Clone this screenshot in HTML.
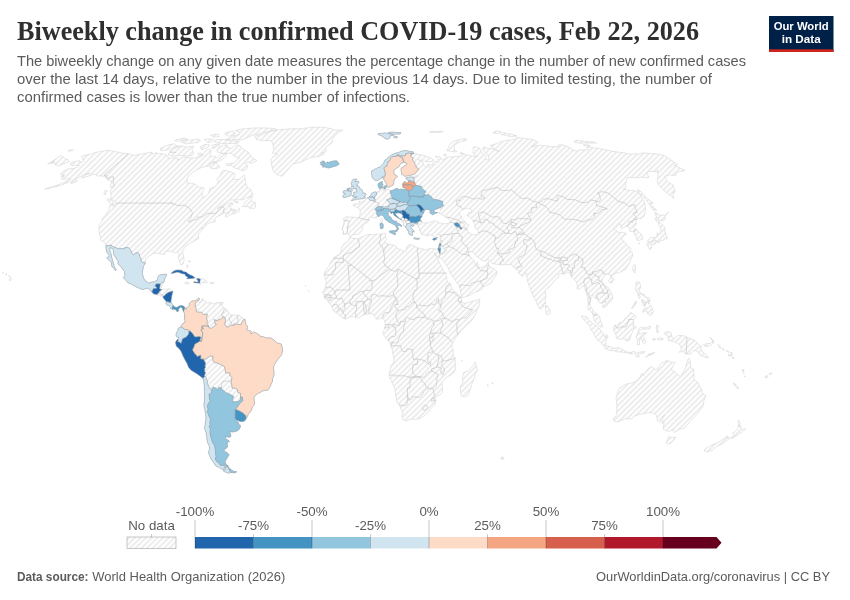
<!DOCTYPE html>
<html lang="en"><head><meta charset="utf-8"><title>Biweekly change in confirmed COVID-19 cases</title>
<style>
html,body{margin:0;padding:0;background:#fff;}
body{width:850px;height:600px;overflow:hidden;position:relative;font-family:"Liberation Sans",sans-serif;}
svg{position:absolute;left:0;top:0;display:block}
.ttl{font-family:"Liberation Serif",serif;font-weight:bold;font-size:27px;fill:#2f2f2f}
.sub{font-family:"Liberation Sans",sans-serif;font-size:14.8px;fill:#5b5b5b}
.lg{font-family:"Liberation Sans",sans-serif;font-size:13.3px;fill:#5b5b5b}
.ft{font-family:"Liberation Sans",sans-serif;font-size:12.9px;fill:#5b5b5b}
.logo{font-family:"Liberation Sans",sans-serif;font-weight:bold;font-size:11.5px;fill:#fff}
</style></head><body>
<svg width="850" height="600" viewBox="0 0 850 600">
<defs>
<pattern id="hatch" patternUnits="userSpaceOnUse" width="4" height="4" patternTransform="translate(1 0) rotate(-45 2 2)">
<rect width="4" height="4" fill="#fff"/>
<path d="M-1,2 l6,0" stroke="#ccc" stroke-width="0.7"/>
</pattern>
</defs>
<rect width="850" height="600" fill="#fff"/>
<g id="map">
<path d="M70.4,162.9L75.3,161.5L79.5,160.7L79.3,161.8L82.8,161.8L84.0,159.9L82.6,159.5L83.1,158.2L81.2,156.7L83.9,155.5L90.4,154.2L95.6,152.4L102.0,151.4L107.8,150.2L113.6,151.2L118.0,152.2L122.6,153.1L128.3,153.8L131.2,154.2L133.8,155.5L137.6,154.4L141.2,154.2L145.5,153.3L152.0,152.0L152.0,154.2L156.7,152.6L158.1,154.0L161.9,153.5L166.7,155.3L167.8,157.5L170.6,158.2L176.1,157.7L178.1,158.6L177.2,160.2L180.4,158.6L183.7,156.8L186.5,157.5L189.4,157.9L195.4,157.9L198.4,156.4L200.4,157.0L203.6,154.2L205.1,150.9L210.0,148.8L211.0,151.4L210.3,154.2L210.2,156.4L214.7,155.9L216.6,157.9L219.4,155.3L221.6,153.5L226.4,153.7L225.7,156.4L222.2,159.7L216.3,162.0L213.7,162.0L214.0,160.9L213.8,163.1L210.4,164.3L208.2,166.1L205.2,166.6L201.6,167.5L196.5,170.1L191.7,173.1L188.8,176.0L187.4,178.9L187.2,183.2L192.5,183.2L195.5,184.4L199.5,187.4L204.4,187.9L201.9,193.1L202.6,195.5L202.7,197.6L205.4,196.8L208.0,194.3L209.4,190.6L209.4,188.6L214.2,186.9L217.3,184.4L218.3,180.8L216.6,178.9L220.0,176.0L221.2,172.4L223.5,170.1L227.5,170.8L232.0,172.4L235.1,173.6L234.7,176.0L232.8,178.9L235.8,179.6L239.8,178.9L243.0,176.0L244.4,175.0L245.4,179.6L246.1,183.7L247.4,187.6L250.6,189.3L251.6,191.8L253.1,194.3L250.9,196.8L246.6,197.6L242.9,199.8L236.9,199.8L229.8,200.1L224.7,203.1L220.3,206.9L217.2,208.7L221.6,206.1L225.4,204.1L229.9,202.6L232.8,203.1L232.6,204.9L228.9,205.6L230.5,206.9L230.5,208.2L230.4,210.2L232.2,211.0L235.4,211.2L237.2,210.2L239.4,208.2L239.9,210.7L236.8,212.8L231.2,214.3L226.2,217.1L225.0,216.4L225.9,214.6L229.7,212.5L227.5,212.8L224.4,213.0L220.6,215.1L216.5,216.9L214.6,219.5L215.4,221.5L212.6,222.3L209.7,222.8L206.0,224.6L205.3,227.0L202.8,228.9L201.9,227.5L202.0,230.1L199.3,233.4L198.3,234.0L198.8,238.5L196.1,239.9L192.7,242.0L189.4,243.9L185.2,246.7L183.0,250.4L182.8,253.5L183.7,256.2L184.0,260.5L183.3,263.3L182.3,264.7L180.9,264.8L179.7,262.6L178.5,258.2L179.0,254.8L177.7,252.3L176.2,252.1L173.8,253.0L171.6,251.2L168.2,251.4L165.6,251.4L164.6,254.5L162.0,254.3L159.3,253.5L155.0,253.0L152.5,254.0L149.4,256.1L146.2,258.5L145.1,262.6L145.4,262.8L143.4,266.5L142.3,272.3L143.0,276.2L144.5,280.1L147.2,281.9L148.4,283.1L152.4,281.9L154.4,281.9L157.2,280.1L158.4,276.2L159.4,275.1L162.9,274.4L166.3,274.1L166.7,275.4L165.0,277.7L164.3,280.9L163.4,283.0L162.8,282.2L162.2,284.8L161.7,287.4L160.2,289.0L160.8,289.5L161.7,289.5L163.3,289.2L166.7,289.2L169.1,288.7L171.6,290.3L173.0,291.3L172.2,293.9L171.7,296.5L171.3,299.1L170.9,301.7L171.0,302.0L172.3,304.3L173.2,305.5L174.5,306.9L176.3,307.5L177.7,306.9L179.3,306.0L181.4,305.5L183.7,306.2L185.0,307.8L183.6,311.6L183.0,310.9L182.6,308.8L181.3,307.2L180.2,307.1L179.0,308.8L178.0,309.0L178.9,310.9L176.8,311.6L176.4,310.1L175.0,309.5L173.7,309.0L172.3,309.4L172.1,308.8L170.5,308.4L170.8,307.5L168.6,305.4L167.4,305.4L165.9,304.1L166.3,302.0L166.3,301.5L164.6,299.6L162.8,297.0L163.0,296.5L162.9,295.7L162.0,295.7L160.3,296.0L157.5,295.1L156.8,294.6L153.9,293.9L152.2,292.5L148.8,288.7L147.0,288.2L145.2,288.7L142.8,289.6L139.5,288.4L135.4,286.5L131.9,284.4L127.8,282.7L126.1,280.6L123.9,278.3L123.7,277.2L124.8,275.7L124.5,271.7L123.3,269.9L120.8,266.5L117.8,263.7L118.4,260.8L116.4,259.2L115.9,257.7L113.8,254.8L113.4,251.7L113.3,249.1L110.3,247.5L109.7,250.1L111.1,254.0L111.7,257.4L112.9,261.3L113.5,263.9L114.4,267.1L116.3,269.9L115.3,270.7L114.7,269.1L111.8,266.5L111.5,263.9L111.6,262.1L109.3,260.5L107.4,258.7L106.6,257.8L108.7,256.9L109.2,255.3L106.8,252.2L106.3,249.6L105.9,247.0L105.9,245.7L105.9,244.4L104.3,242.4L102.9,241.4L100.5,240.5L100.8,238.6L99.7,235.0L99.5,232.7L99.0,231.4L98.9,228.0L99.1,225.1L101.7,221.5L102.3,218.9L105.9,214.6L108.7,210.2L110.5,204.7L113.7,205.1L113.6,206.9L115.6,203.1L115.1,202.3L113.7,200.6L110.6,198.1L111.2,195.1L110.5,191.8L110.8,189.6L112.6,188.1L110.4,187.4L111.0,184.4L111.5,180.8L107.6,180.1L106.9,178.9L105.1,176.9L102.3,176.0L97.8,176.0L94.9,174.3L91.7,174.8L86.9,176.7L81.3,177.9L85.3,174.8L89.9,173.1L83.5,174.8L78.4,177.7L74.5,179.6L67.6,182.5L60.9,185.2L55.3,186.9L50.1,188.1L44.6,189.1L49.9,187.4L55.6,185.7L62.4,183.2L68.3,180.1L70.6,178.9L67.8,178.9L63.8,179.1L61.0,179.1L64.1,176.5L60.7,176.2L64.6,175.3L60.6,174.3L62.0,172.2L65.5,170.1L68.6,168.7L71.8,168.7L76.8,167.5L79.4,165.4L75.9,165.4L71.5,165.4L70.7,164.7ZM185.0,307.8L186.3,309.5L186.4,308.0L187.8,306.9L189.2,305.6L189.6,303.0L191.2,301.6L192.7,300.9L195.0,300.9L197.4,299.4L198.6,297.9L199.9,298.9L199.3,299.5L197.9,301.5L198.6,302.0L200.0,301.7L201.6,300.7L202.0,298.9L202.9,298.6L202.9,300.2L205.1,300.7L206.1,302.0L206.8,303.0L209.3,302.8L211.1,302.8L213.6,304.1L215.5,303.0L216.4,302.6L220.5,302.5L218.7,303.3L219.3,303.8L222.9,305.9L223.0,308.0L224.9,308.2L225.3,308.8L227.1,309.8L228.2,312.2L229.0,312.7L231.1,314.8L231.3,314.9L233.8,315.2L235.9,314.9L238.4,315.3L240.7,316.1L242.3,317.6L243.7,319.5L245.0,319.2L245.8,324.7L247.4,326.0L247.7,327.8L246.7,329.9L247.4,330.4L251.1,331.2L250.9,334.2L253.4,332.0L256.6,333.3L259.9,335.4L260.6,336.9L262.7,336.5L266.4,338.0L270.5,337.8L274.0,340.0L276.8,342.7L279.8,343.7L281.4,344.0L281.6,345.5L282.5,348.9L282.4,351.4L281.6,354.6L279.2,357.8L277.6,359.6L274.6,364.3L273.5,366.9L273.6,369.5L274.1,373.4L273.6,376.5L272.5,378.6L272.5,381.5L271.5,383.3L270.1,386.7L268.0,390.1L265.4,390.4L262.0,391.1L260.6,392.4L258.6,393.0L255.2,395.6L254.0,397.1L254.1,400.3L254.6,402.3L254.2,405.0L252.4,406.8L251.5,409.9L250.3,412.0L248.2,414.3L247.5,416.7L246.1,418.4L245.5,420.1L243.3,421.6L240.5,421.4L236.8,420.2L235.3,419.0L235.6,420.6L238.5,422.4L238.8,424.8L240.1,425.0L240.5,426.6L239.2,429.4L237.1,431.0L232.5,432.0L229.6,431.5L230.7,434.4L230.8,436.2L230.0,437.2L225.2,436.7L225.5,438.5L228.3,440.3L229.5,441.6L227.8,442.1L227.1,443.1L227.5,446.5L227.2,447.5L224.0,449.8L224.3,451.3L227.0,452.6L229.1,454.7L226.8,458.5L225.1,461.5L225.9,464.2L228.2,466.0L226.2,466.5L224.0,467.2L224.2,468.2L224.1,469.7L221.3,468.7L218.7,467.2L215.8,466.0L213.7,462.7L211.1,459.0L209.4,455.2L208.3,451.6L209.6,449.6L209.4,446.2L207.8,442.9L207.0,439.8L207.0,438.0L206.2,434.6L206.6,434.1L205.4,430.7L204.3,427.4L205.0,426.1L205.3,422.9L205.9,419.0L205.9,416.4L205.3,412.5L204.7,408.6L203.8,404.7L204.5,400.8L204.6,396.9L204.4,391.9L204.3,385.1L204.0,383.1L203.1,378.5L202.9,378.2L200.7,376.5L197.2,373.9L194.1,372.1L191.2,370.3L188.7,367.4L188.3,366.4L186.9,363.0L186.1,361.8L184.6,359.1L183.3,356.5L182.3,354.1L181.2,351.5L179.0,348.4L176.2,346.0L175.9,344.0L175.5,342.6L176.4,340.6L177.7,339.3L178.5,338.7L178.6,336.9L177.7,337.4L176.1,336.1L176.3,333.1L177.4,331.4L178.1,330.1L178.2,328.3L179.2,327.8L181.0,326.8L181.3,325.7L182.6,323.6L184.2,323.1L185.2,320.2L184.3,319.5L184.9,316.1L184.3,316.1L184.7,313.7L183.6,311.6ZM228.1,466.9L229.2,467.7L231.7,470.2L234.2,471.5L236.8,471.8L234.7,472.8L230.5,472.4L228.2,473.2L224.6,471.7L223.2,470.7L225.0,470.0L225.9,469.0L224.6,467.2L226.5,467.1ZM9.5,278.9L10.2,277.6L11.5,278.4L12.0,279.6L10.0,281.0L9.4,280.4ZM8.7,275.8L9.7,275.8L10.2,276.4L9.0,276.7ZM5.6,274.2L6.4,273.8L6.7,274.9L5.8,274.9ZM2.6,272.8L3.5,272.5L3.3,273.3L2.6,273.2ZM171.0,273.4L173.5,271.2L175.4,270.4L177.5,269.9L179.9,270.2L181.5,270.2L183.5,271.7L185.8,272.0L187.8,273.6L189.9,274.9L191.7,275.4L194.9,277.6L194.5,278.1L191.8,278.5L186.8,278.7L188.1,277.0L185.9,276.2L184.8,274.1L182.2,273.7L180.0,272.8L177.4,272.0L175.6,272.5L173.5,273.1ZM193.7,282.6L196.1,282.8L198.5,283.0L199.7,283.3L200.4,284.5L201.5,283.0L203.8,282.4L206.7,283.0L207.7,281.9L206.2,280.9L204.4,279.2L202.2,278.5L200.2,279.0L197.9,278.4L196.5,278.8L197.7,280.1L198.4,281.9L195.9,282.0L193.9,281.8ZM184.9,282.6L186.1,282.2L188.2,282.4L189.6,283.5L188.0,283.9L186.0,283.9ZM210.2,282.3L213.7,282.4L213.5,283.5L210.0,283.6ZM220.8,302.5L223.1,302.2L222.7,304.1L220.7,304.2ZM188.1,260.8L190.2,261.1L190.6,261.8L188.4,261.3ZM187.4,264.7L188.2,267.1L187.6,267.8L186.7,266.3ZM242.1,206.6L245.6,201.8L250.1,197.3L252.9,196.6L250.9,199.8L252.3,201.8L255.1,202.3L255.5,204.4L255.5,206.9L253.7,208.9L252.1,208.2L249.3,208.4L248.8,206.6L245.8,206.6ZM107.6,198.6L111.5,199.6L112.6,201.3L113.2,204.6L111.0,204.1L108.9,201.8L107.1,200.1ZM104.9,190.3L107.2,190.6L104.8,194.8L104.0,192.6ZM231.3,208.7L235.7,209.7L233.7,210.7L231.5,210.0ZM233.6,200.8L238.1,202.1L238.3,202.8L235.0,202.3ZM71.9,181.8L77.7,180.1L75.9,182.2L71.0,183.7ZM235.4,145.2L239.4,145.2L241.1,147.1L242.8,149.2L246.5,150.9L249.2,153.1L250.4,155.3L253.6,158.6L256.9,160.4L251.8,163.6L248.9,162.4L245.1,163.1L247.4,165.4L247.4,168.2L243.5,171.2L239.9,169.6L235.3,168.2L231.4,165.6L226.1,165.6L226.4,163.8L233.8,163.1L236.4,160.2L239.5,157.9L235.1,156.8L231.9,154.2L231.0,153.1L226.7,153.3L221.1,153.1L217.0,152.0L217.1,149.9L219.5,147.1L223.6,145.2L227.7,145.0L226.7,147.1L231.5,148.2ZM171.4,150.1L180.2,145.8L186.8,147.1L194.0,146.3L191.9,149.9L193.8,153.1L192.6,155.3L187.6,156.2L181.3,155.7L172.5,156.2L168.0,154.8L169.4,152.6L176.2,152.4L169.7,151.6ZM159.9,148.8L167.8,145.0L174.1,143.8L176.5,145.6L178.9,146.3L171.7,148.4L165.5,150.3L161.1,150.5ZM226.0,139.7L232.0,139.7L241.0,139.9L245.3,138.5L251.1,135.7L258.7,133.8L268.0,131.5L276.8,129.6L275.0,128.5L264.7,127.9L253.7,128.0L241.4,129.1L235.6,130.4L239.1,132.1L239.9,133.8L234.5,136.0L229.4,138.0ZM225.4,132.7L233.6,130.9L235.2,132.9L233.5,135.7L228.4,136.2L225.0,134.2ZM214.1,141.5L219.1,143.4L228.3,143.6L238.0,143.2L239.1,141.1L230.8,140.9L226.5,139.9L221.9,139.3L217.1,139.5ZM181.7,142.1L185.9,143.8L194.9,142.8L198.2,142.6L200.7,140.5L198.2,138.9L190.5,140.1L186.5,139.7ZM204.2,139.5L207.5,142.6L212.5,141.5L214.3,139.3L210.2,138.9ZM174.7,140.5L179.7,141.3L187.3,139.1L184.5,138.0L176.9,139.5ZM200.0,146.7L201.7,149.9L208.3,147.1L209.2,144.6L204.5,144.6ZM211.8,145.2L212.4,148.8L219.9,145.0L216.7,144.2ZM197.5,153.5L200.1,156.4L203.2,154.6L201.2,153.1ZM211.5,162.7L216.1,162.2L217.9,164.7L220.0,167.0L216.1,168.9L211.1,168.4L209.7,166.6L209.5,164.7ZM210.5,135.3L214.2,137.0L219.1,136.6L218.5,134.7L214.9,134.2ZM254.9,136.2L264.4,133.8L271.1,131.2L279.5,129.6L291.2,128.8L300.8,128.8L311.3,127.3L322.1,127.1L329.8,128.3L334.8,129.9L343.0,130.4L338.3,132.6L334.7,135.7L332.2,139.5L332.3,142.6L327.7,145.6L325.4,148.8L326.4,152.0L321.2,153.1L324.3,154.2L318.8,156.4L311.8,157.3L306.0,159.7L300.1,162.4L292.7,164.0L289.7,167.7L285.5,172.4L282.6,176.0L279.8,176.0L275.1,173.6L272.8,170.1L271.6,164.3L270.9,159.7L273.3,156.4L277.7,154.2L272.4,153.1L274.0,149.9L273.3,146.7L272.6,142.6L269.4,140.5L261.8,140.5L256.5,139.5L255.2,137.6ZM437.9,248.8L438.4,248.0L438.8,246.9L439.2,244.9L439.3,244.1L439.9,242.0L440.4,240.6L440.7,240.1L440.0,237.9L440.2,236.8L440.6,235.0L439.3,235.0L437.1,234.5L435.4,236.2L433.4,236.4L431.6,235.3L428.7,234.4L428.4,235.8L426.5,236.2L425.3,234.9L423.3,234.7L421.6,234.7L421.3,234.0L420.9,231.6L418.8,230.6L420.1,230.1L419.4,228.0L418.1,227.5L418.1,226.2L418.1,225.9L417.6,224.6L417.6,224.2L417.3,224.0L414.1,223.7L412.7,224.4L413.4,225.1L414.1,225.8L413.1,226.2L412.2,226.3L411.0,224.9L410.5,226.2L411.3,227.7L411.6,228.8L413.9,230.8L414.2,232.1L412.9,231.5L411.9,231.6L412.4,233.2L412.4,235.3L411.1,235.4L409.9,234.5L409.3,234.5L408.3,232.4L408.4,230.8L407.7,230.6L406.9,229.0L405.5,227.2L405.1,227.0L403.6,225.1L403.4,222.6L403.3,221.4L401.3,220.0L400.4,219.3L399.1,218.4L396.7,217.1L394.1,215.3L393.3,213.3L392.2,212.5L391.3,213.8L390.5,212.1L390.8,211.8L389.5,211.6L387.9,212.3L388.4,213.5L388.0,215.1L388.7,215.7L390.6,216.9L391.8,219.2L392.3,219.8L394.3,221.1L396.6,221.3L396.0,222.3L398.2,223.3L400.6,224.5L401.8,225.9L401.5,226.7L400.7,226.0L399.0,225.0L397.8,226.2L397.6,227.0L399.0,228.8L398.0,229.3L397.0,231.6L396.1,231.2L396.4,229.7L397.1,228.8L396.6,227.7L395.9,226.2L393.9,224.5L392.7,224.0L391.2,223.1L389.1,222.4L388.2,221.7L387.3,220.7L385.8,220.0L384.5,218.6L384.0,217.0L382.9,215.7L381.0,214.8L379.6,216.0L378.1,216.4L377.6,216.6L376.3,217.9L375.0,218.2L373.7,217.7L372.1,217.5L370.7,217.1L369.0,218.2L369.1,219.9L369.5,220.2L367.2,222.6L365.1,223.3L364.2,224.4L361.9,227.6L363.0,229.4L361.5,230.5L360.4,232.4L357.8,234.6L357.3,234.4L353.1,234.7L351.0,236.3L350.4,236.6L349.0,235.3L347.6,233.4L346.6,233.4L345.4,234.0L343.2,234.0L343.6,231.5L342.9,230.3L342.3,229.3L342.5,227.9L343.7,225.8L344.2,223.2L344.0,221.4L344.1,220.5L343.1,218.7L345.1,217.4L346.1,216.5L348.0,217.0L350.7,217.0L354.6,217.3L356.3,217.5L358.8,217.5L359.3,217.1L360.1,214.2L360.3,211.9L360.1,210.3L358.9,209.5L358.1,207.5L356.3,206.9L353.7,206.1L353.0,204.7L355.5,203.6L358.5,204.0L359.5,204.0L359.3,202.6L358.7,201.3L359.3,201.5L360.0,201.3L360.3,202.2L361.9,202.3L362.8,201.8L363.0,201.3L364.7,200.7L365.6,200.1L365.7,198.8L366.2,198.2L367.3,197.9L367.6,197.8L368.3,197.4L369.2,197.1L369.5,196.8L370.6,195.5L371.8,193.2L372.9,192.8L374.0,192.1L376.0,191.9L376.6,192.3L378.1,191.3L379.1,191.7L379.4,190.8L380.0,190.8L379.7,190.2L379.2,188.4L378.7,187.0L378.0,185.7L378.1,183.9L378.8,183.0L382.5,181.4L382.4,182.7L382.1,184.2L383.3,184.7L382.0,185.3L381.3,186.9L381.0,188.1L380.7,188.6L382.2,189.7L384.0,189.6L383.7,190.7L386.0,190.2L388.4,189.1L389.3,190.3L390.2,190.8L393.5,190.0L395.3,188.8L398.0,188.6L398.7,189.7L400.5,189.5L400.8,188.2L402.0,188.1L402.9,187.4L402.9,186.4L402.7,185.5L402.4,184.4L402.9,183.2L405.0,181.4L406.4,183.0L408.1,183.1L408.2,181.1L408.3,179.9L406.3,179.1L405.9,177.9L408.3,177.3L410.5,176.9L414.4,177.3L414.9,176.7L418.1,176.1L415.8,175.5L415.0,174.3L413.4,174.7L411.9,174.9L408.4,175.6L404.8,176.3L403.2,175.0L401.4,174.1L401.5,172.4L400.9,168.7L402.9,167.0L407.0,164.3L406.6,163.1L404.4,162.4L401.2,163.0L399.9,165.0L398.5,167.0L396.2,168.4L393.8,170.3L394.0,174.3L396.7,175.5L397.4,176.9L394.4,179.1L393.9,181.3L393.6,184.1L393.0,185.2L392.3,185.3L389.9,186.8L389.8,187.1L389.0,187.1L387.8,187.2L387.4,186.6L386.8,185.5L386.3,184.9L387.0,184.1L384.9,181.5L383.4,178.6L383.1,178.1L382.2,176.2L382.0,177.7L381.2,178.3L377.5,180.4L375.8,180.8L372.9,178.5L372.2,177.4L371.9,175.0L371.5,173.6L371.6,171.5L371.7,170.8L373.5,170.1L375.1,168.9L376.3,168.7L378.0,167.5L379.9,167.3L381.4,165.4L382.3,164.5L383.8,163.1L384.3,161.5L384.9,160.2L387.1,159.0L387.9,157.5L389.5,156.4L391.0,155.3L394.0,153.8L396.4,152.9L398.8,152.4L401.1,151.4L404.7,150.6L407.8,150.7L409.3,151.4L411.8,151.6L413.8,152.2L412.3,153.4L410.5,153.0L413.1,153.5L413.7,153.5L415.6,153.3L417.5,154.3L421.0,154.8L424.7,155.9L429.4,157.4L432.7,159.0L433.3,159.7L433.1,160.6L431.6,161.5L429.2,161.9L423.7,161.1L421.0,160.4L418.1,159.5L420.3,161.1L422.9,162.4L423.5,164.4L423.7,165.4L427.1,166.8L430.0,166.8L428.6,165.6L426.9,164.0L429.1,164.6L432.9,165.3L433.7,165.3L432.2,163.1L434.9,161.1L438.7,162.0L438.9,161.5L438.1,159.3L436.7,157.5L435.3,156.0L437.5,156.4L440.2,156.8L440.6,157.9L442.3,159.9L443.9,159.7L444.9,158.2L447.9,157.0L452.0,156.8L453.8,157.0L455.2,156.4L459.3,156.2L462.5,155.9L462.9,153.5L465.2,154.6L470.7,155.5L473.7,156.4L477.3,156.8L474.5,155.3L473.4,153.1L472.0,151.4L473.5,149.9L473.1,147.5L474.1,146.7L477.1,146.9L480.1,148.8L481.5,152.0L485.9,155.7L485.6,159.3L488.7,160.2L488.7,157.5L487.8,154.8L483.5,150.9L482.6,147.7L484.0,147.1L488.2,148.4L490.4,148.2L493.7,149.2L498.6,151.4L499.1,152.0L495.3,149.2L490.0,145.6L496.8,143.6L501.0,141.5L507.4,140.3L514.1,139.5L517.6,137.2L523.4,138.5L530.2,139.1L535.9,140.5L537.7,142.6L535.5,144.6L531.5,146.7L539.4,145.2L542.2,145.6L553.8,146.7L558.6,146.7L558.1,145.0L561.7,144.8L568.2,146.7L571.9,149.0L571.9,149.6L577.2,151.4L578.7,149.9L583.5,149.9L588.4,149.9L587.2,147.7L587.1,146.9L592.0,147.7L597.4,148.2L606.3,149.9L611.4,151.1L625.6,153.1L630.5,154.2L634.9,153.7L638.8,154.2L641.0,153.1L644.3,152.9L649.5,153.5L654.8,153.7L659.2,154.4L664.2,155.5L677.4,164.3L676.7,165.0L674.0,165.0L682.2,168.9L685.0,170.5L678.8,171.7L675.8,173.6L675.7,176.0L670.0,174.8L667.8,176.0L664.4,176.2L666.5,179.6L666.6,181.3L673.3,185.2L674.0,188.1L674.9,189.3L674.7,192.6L672.7,193.1L673.7,198.3L668.6,194.3L664.2,190.6L659.2,185.7L657.2,181.3L657.7,178.4L658.1,174.8L657.4,171.9L657.8,170.1L656.5,171.9L652.0,171.5L648.4,171.9L646.6,172.4L648.9,177.2L647.9,177.9L641.0,177.1L637.4,177.7L631.6,177.4L627.5,177.5L626.2,181.3L625.5,184.4L626.0,188.1L623.1,188.8L629.1,190.6L632.5,190.1L638.0,192.3L637.2,192.7L640.6,195.1L640.9,196.8L643.3,200.6L644.9,203.1L645.4,207.4L645.6,210.7L644.6,213.8L643.7,216.4L640.6,218.9L637.8,218.2L637.1,219.5L636.5,220.2L635.4,221.5L636.6,224.1L633.6,226.7L634.1,228.2L636.8,229.8L641.1,234.0L642.3,236.6L642.7,238.9L640.6,239.7L637.9,241.0L636.9,239.7L636.0,236.6L634.3,234.2L634.5,232.8L634.3,232.0L632.0,231.6L630.4,231.4L629.6,231.1L629.9,229.5L628.9,227.5L626.5,226.3L624.1,227.2L622.0,229.0L620.5,227.2L621.2,224.9L618.2,224.0L616.9,226.4L613.6,228.8L617.2,231.1L618.3,232.0L618.5,233.4L620.7,232.1L621.4,231.9L623.2,232.5L625.8,232.9L626.2,234.4L622.8,236.4L621.5,239.2L622.0,239.9L624.9,242.3L627.4,245.4L630.6,248.0L631.0,249.9L629.5,251.4L632.3,252.5L632.7,256.6L631.5,257.7L629.9,262.6L627.4,266.5L625.2,269.7L619.8,272.3L618.3,272.5L615.1,273.6L611.9,275.1L611.7,277.5L610.8,277.5L610.1,274.6L608.7,274.4L606.2,274.2L603.8,276.4L602.3,279.6L602.2,281.7L604.3,284.0L607.5,287.3L609.0,288.4L611.9,294.4L612.8,297.6L612.4,299.4L610.1,302.0L608.0,303.4L607.2,305.6L603.0,308.0L602.9,304.3L601.9,303.3L599.7,302.8L598.3,300.4L598.0,299.9L597.0,298.6L594.1,297.4L592.3,295.2L591.0,295.7L591.1,297.7L590.4,301.7L589.9,303.0L590.5,306.4L592.0,308.5L593.6,311.6L595.2,312.4L597.2,314.1L597.5,314.2L599.7,316.5L600.4,320.5L601.7,323.9L602.6,326.8L601.5,327.1L600.8,326.9L597.9,324.7L595.7,322.6L594.2,320.0L593.2,316.3L592.8,313.7L592.5,313.5L590.8,311.4L589.6,309.4L588.2,309.8L587.9,307.2L588.4,304.4L588.0,300.4L588.0,297.9L586.5,293.9L585.4,290.8L584.6,287.4L582.7,285.3L581.6,287.1L579.8,289.2L577.0,288.8L577.4,284.8L576.4,282.2L574.7,279.8L572.6,277.9L571.2,276.4L570.1,274.6L569.3,272.3L567.5,271.7L566.7,273.1L563.3,274.0L561.4,273.8L558.8,274.4L558.5,277.6L556.7,278.8L555.2,280.0L551.7,284.3L549.6,286.2L549.7,287.1L547.2,288.3L545.5,290.0L545.1,291.3L546.0,296.3L545.2,299.4L545.5,303.6L544.0,303.7L543.5,305.9L544.4,306.3L542.0,307.5L540.6,309.3L539.0,308.2L537.3,304.5L536.0,301.1L533.6,296.8L530.7,290.1L529.2,286.1L527.5,281.0L527.0,277.7L526.5,275.4L526.0,272.5L525.3,273.7L522.9,276.4L521.4,275.9L519.5,274.0L517.9,272.4L520.6,271.6L520.7,270.6L518.6,271.0L516.8,269.7L515.8,268.6L513.9,267.8L512.6,265.8L511.7,264.5L507.2,264.7L504.7,264.6L502.1,265.0L500.5,264.7L498.2,264.5L491.9,263.5L489.7,260.5L488.0,259.6L485.3,261.1L483.7,261.1L481.6,260.3L479.4,258.5L475.3,255.1L473.6,252.5L471.9,251.9L470.5,251.4L469.9,252.3L468.5,252.2L468.7,253.8L470.0,256.0L473.3,260.0L474.6,261.5L474.8,263.9L476.4,265.9L476.1,263.9L477.1,262.2L478.0,264.5L478.3,266.3L477.4,266.3L478.4,267.3L480.6,267.3L484.6,266.7L486.4,264.6L487.7,262.8L488.4,261.7L488.7,263.7L488.8,265.0L489.9,266.9L494.2,268.9L497.2,271.7L496.6,274.6L494.8,277.2L493.1,279.2L492.4,281.1L490.3,283.6L487.9,284.7L485.5,286.1L483.3,287.0L481.4,289.7L474.5,292.5L470.8,294.8L465.4,297.0L461.9,297.4L461.4,295.7L460.5,291.8L459.9,287.7L459.3,286.3L455.9,281.1L453.7,277.9L450.9,274.4L448.0,267.6L445.9,264.7L444.0,262.0L442.1,259.1L439.5,257.3L440.1,253.9L439.9,253.4ZM60.9,155.5L63.0,156.8L64.6,158.6L68.1,159.7L69.1,161.8L66.2,162.9L59.2,165.4L57.7,165.9L54.9,164.7L56.3,163.1L51.1,163.1L54.6,161.3L47.7,164.3ZM70.1,149.9L73.3,149.9L72.7,150.7L67.9,151.1ZM351.2,200.4L352.2,200.7L354.4,199.8L355.3,200.1L355.8,199.1L357.7,199.3L358.7,199.1L360.0,199.1L361.0,198.7L363.0,198.7L364.4,198.3L365.2,197.7L365.4,197.1L363.9,196.8L364.4,196.0L365.1,195.7L365.7,195.3L366.0,194.3L365.3,193.3L363.5,193.2L362.7,193.3L363.2,192.8L362.7,191.7L362.4,190.3L361.4,189.3L360.3,189.0L359.9,188.1L358.7,186.1L358.4,185.9L356.4,185.7L357.6,184.9L357.0,184.5L358.7,182.8L359.2,182.0L358.8,181.5L356.2,181.5L354.6,182.0L355.4,181.1L356.8,179.7L357.0,179.2L353.2,179.3L352.6,180.2L351.7,181.1L351.8,182.5L351.5,183.2L350.8,183.9L352.1,184.7L351.4,187.4L352.4,186.4L353.2,185.9L353.6,187.0L352.7,188.5L353.2,189.0L355.6,188.4L356.7,188.2L355.6,189.3L356.9,190.3L356.6,191.1L356.5,192.1L355.0,192.2L353.6,192.2L353.3,193.6L354.5,194.6L352.1,195.8L352.5,196.4L354.3,196.7L356.3,196.9L357.2,196.7L356.6,197.6L354.4,197.6L353.6,198.1L352.7,199.2ZM349.0,188.0L351.3,188.5L352.1,189.8L352.6,190.5L351.0,191.2L350.9,191.4L351.2,193.1L351.4,194.1L350.6,196.0L349.3,196.1L346.9,196.9L343.7,197.8L342.5,196.2L344.1,194.9L343.7,195.0L345.5,193.6L343.2,192.9L343.3,191.5L343.7,190.7L346.5,190.7L347.3,190.0L347.1,188.6L349.2,188.8ZM322.3,167.0L323.9,166.2L320.5,164.6L324.1,164.0L323.9,163.4L319.9,163.1L322.6,161.1L324.0,161.0L325.3,163.1L326.0,163.4L327.5,161.8L328.7,162.6L330.9,161.6L334.7,160.8L337.5,161.1L336.6,162.0L338.9,163.1L338.9,164.3L337.0,165.6L335.8,166.0L332.4,167.0L328.8,168.0L326.5,167.6L325.0,166.9ZM377.7,134.2L378.4,133.5L382.6,133.3L385.4,132.9L388.5,133.6L393.9,135.1L390.4,135.7L390.1,137.6L388.0,139.3L385.1,138.5L383.4,137.4L382.5,136.2L379.3,135.1ZM388.2,132.6L390.9,132.1L396.7,132.4L401.1,132.7L400.1,134.0L394.4,134.2L389.9,133.5ZM394.2,136.2L397.3,136.6L397.0,138.0L393.9,137.6ZM389.2,231.4L391.1,230.8L395.8,230.6L395.0,232.7L395.5,234.0L395.1,234.9L393.3,234.0L391.7,233.2L389.5,232.3ZM379.8,223.8L381.9,222.9L382.9,223.8L383.3,224.9L383.1,227.2L382.9,228.5L381.9,228.2L381.4,229.0L380.4,228.2L380.3,225.4ZM382.2,218.4L382.6,220.2L382.3,221.4L381.9,222.6L380.6,221.3L380.5,220.0L380.9,219.5ZM413.5,238.4L414.7,237.7L417.0,238.3L419.6,238.4L419.2,239.2L416.3,239.3L413.7,238.6ZM432.6,239.0L433.9,238.6L433.8,238.1L435.6,238.1L437.4,237.3L436.2,238.5L436.5,239.2L435.6,239.6L434.2,240.3L433.0,239.8ZM383.8,186.4L385.2,185.7L386.6,185.7L386.5,186.6L386.2,187.6L385.6,188.2L385.0,187.7L384.0,187.6ZM381.3,186.9L382.4,186.6L383.3,187.4L383.1,188.0L382.0,188.0ZM383.7,188.5L385.4,188.4L385.7,189.0L384.3,189.0ZM446.7,150.9L448.4,147.7L449.8,144.6L452.6,141.5L458.3,139.9L465.5,138.5L466.7,139.9L458.7,142.6L455.3,144.6L454.2,146.7L454.4,149.9L457.0,151.8L452.9,151.8L449.2,150.9ZM500.8,134.7L502.3,132.6L511.6,134.2L517.1,136.0L510.5,136.6L504.1,135.1ZM492.7,132.9L495.8,130.9L500.9,131.5L499.9,132.9L496.5,133.6ZM574.0,141.9L576.0,140.3L585.7,141.5L594.4,142.1L596.5,143.0L584.9,143.0L579.0,143.2ZM583.0,144.8L587.7,144.8L590.4,146.1L586.4,146.1ZM429.2,132.1L433.0,131.4L441.3,131.2L443.3,131.9L436.7,132.6ZM443.4,155.3L444.9,154.2L446.7,155.1L445.4,155.9ZM459.6,153.5L460.5,152.2L462.7,153.1L462.0,154.0ZM637.2,189.8L639.1,190.1L643.0,193.6L645.8,196.8L649.1,200.1L653.3,203.1L650.9,203.9L653.5,207.7L655.6,208.9L656.5,210.5L653.6,208.9L653.8,210.7L651.7,208.2L648.9,203.6L645.3,199.3L641.6,195.5ZM657.3,222.3L658.8,221.7L658.2,219.7L663.2,221.0L666.0,217.9L664.7,216.9L663.6,215.1L660.1,215.3L654.5,212.0L655.1,213.8L657.1,217.7L655.1,217.9L655.1,219.5ZM659.2,222.3L660.4,222.6L663.7,226.2L665.3,228.8L664.4,230.8L665.9,234.0L666.1,235.8L667.3,237.2L666.9,238.8L666.2,239.3L665.2,237.6L664.2,238.6L664.3,240.1L663.0,240.2L660.4,240.2L660.6,241.0L659.4,241.3L659.1,243.2L657.1,242.0L656.7,240.7L654.2,239.9L652.1,241.0L650.8,242.0L647.9,241.9L647.6,240.7L649.2,239.4L650.6,237.7L653.4,237.7L655.4,237.3L656.9,237.3L657.0,234.5L657.4,232.7L657.1,233.7L658.5,234.5L660.2,233.1L661.0,230.8L660.6,228.2L659.6,226.2L658.5,224.6L658.4,223.1ZM651.7,243.1L652.1,241.5L654.6,240.7L655.9,241.3L656.3,242.3L655.9,243.7L654.3,243.1L653.8,245.0L652.4,244.4ZM647.9,242.0L650.0,242.8L651.1,244.4L651.4,247.2L651.1,248.8L650.5,249.6L649.1,248.8L648.2,246.5L646.8,245.2L646.1,243.9L647.0,242.8ZM634.6,264.5L635.7,265.2L635.6,267.8L635.0,273.1L633.4,271.5L632.5,269.1L633.2,266.3ZM608.7,280.4L610.4,278.3L612.9,278.0L613.8,279.3L612.0,282.7L610.2,282.7L609.0,281.9ZM545.7,305.0L546.7,305.5L548.9,308.2L550.5,310.9L550.3,313.5L547.8,314.9L546.6,314.5L545.8,312.2L545.6,309.0ZM638.3,243.6L638.9,242.9L639.8,243.2L639.3,243.9ZM423.9,223.1L421.4,221.3L420.1,219.7L420.8,217.9L422.0,216.5L422.0,215.3L423.8,212.8L423.6,212.4L425.4,209.5L426.9,209.2L428.0,209.5L430.2,210.5L431.4,210.5L429.5,212.4L431.8,214.3L432.5,214.8L433.2,214.6L435.6,213.3L437.7,212.5L435.3,212.5L434.5,211.5L433.8,210.2L435.1,209.5L437.7,208.8L439.0,207.9L440.4,207.9L441.7,207.7L442.6,207.9L440.8,208.9L440.5,210.7L439.6,212.5L438.2,212.8L439.6,213.5L440.7,214.1L443.6,215.6L445.2,216.9L445.9,217.4L448.2,218.4L449.9,220.6L450.1,221.9L450.0,222.3L448.0,223.5L446.4,223.6L443.6,223.7L442.6,223.6L439.2,222.8L436.3,220.9L433.4,221.0L429.5,222.4L426.4,223.1ZM461.0,210.7L463.7,209.2L466.6,208.4L468.4,208.3L470.7,208.7L472.1,212.5L468.6,212.5L468.0,214.3L466.8,215.1L468.9,216.8L471.9,218.9L473.6,221.7L474.2,223.3L475.0,226.2L474.7,227.7L477.6,229.0L478.4,233.1L478.8,234.2L476.0,234.7L472.4,234.6L469.1,232.8L467.0,230.2L467.0,229.4L467.7,227.7L468.3,225.3L469.3,225.1L467.6,224.6L464.7,221.4L463.9,220.9L461.7,218.4L461.2,215.9L459.2,214.6L459.4,212.5ZM349.8,237.1L351.1,236.8L353.2,238.6L356.2,238.4L357.8,238.9L361.1,237.3L362.8,236.6L365.4,235.3L369.1,234.5L373.3,234.5L377.4,234.0L379.2,234.2L381.1,234.1L383.7,233.2L386.3,233.8L385.4,235.5L385.7,237.3L386.6,238.6L385.9,239.9L384.6,242.0L386.3,242.8L387.8,244.0L391.4,244.6L395.9,245.9L397.1,248.5L401.1,249.9L404.5,251.4L406.6,249.9L406.6,246.7L409.8,244.6L413.2,245.4L415.2,246.7L417.8,247.9L422.4,248.7L426.5,250.0L428.4,249.1L430.7,248.2L433.6,248.8L436.6,249.3L437.9,248.8L439.8,253.5L439.4,256.1L438.9,258.1L437.0,256.6L435.7,254.8L434.6,252.5L434.3,253.5L435.1,255.1L437.3,257.9L437.9,259.5L439.7,263.4L442.3,267.8L443.1,270.4L445.7,273.1L446.5,275.7L446.7,279.3L447.5,281.7L450.1,283.5L452.4,289.7L454.2,291.3L456.5,292.6L459.4,296.0L460.2,296.5L461.1,297.3L461.8,299.4L461.0,300.4L461.5,300.5L463.4,303.2L465.7,303.2L469.1,302.2L472.4,301.2L475.9,300.7L478.8,299.3L479.9,299.5L479.6,303.2L479.0,305.9L477.3,309.5L475.2,314.8L472.9,318.7L469.6,322.8L466.9,325.1L463.9,327.8L460.6,331.3L458.2,334.7L456.7,336.4L454.8,338.7L453.8,341.0L452.7,342.6L452.0,344.7L451.7,347.1L452.8,348.3L453.2,351.3L453.2,353.9L453.8,356.5L455.2,357.8L455.3,360.4L455.3,364.0L455.6,368.2L455.3,369.5L453.6,372.9L450.0,375.5L446.5,377.3L444.6,379.7L441.5,382.1L442.2,386.4L442.5,388.3L442.3,392.7L439.9,395.0L436.4,396.3L435.4,398.2L435.9,400.4L434.9,404.7L433.8,405.5L431.2,408.3L428.6,412.0L423.6,416.4L418.3,419.0L414.8,419.3L410.9,419.3L406.0,421.1L403.6,419.8L402.7,419.9L402.7,418.8L402.0,415.9L402.8,413.3L401.2,409.4L400.0,406.3L399.1,405.0L397.5,402.9L396.4,399.9L395.8,395.6L395.2,390.2L393.9,386.4L392.0,382.5L389.8,377.8L389.2,375.4L389.4,372.1L390.2,369.5L391.1,365.6L393.2,363.2L394.2,359.1L392.8,353.9L392.4,349.9L390.8,346.3L390.6,343.4L389.8,342.9L388.1,340.6L385.6,337.7L384.0,335.4L382.8,332.2L384.0,330.4L384.3,329.4L384.7,327.8L385.1,324.4L385.3,322.7L384.4,320.2L383.0,318.7L382.1,318.0L381.6,318.4L378.7,318.9L376.4,319.2L374.7,316.6L372.9,314.0L370.4,313.6L368.8,313.8L366.3,314.2L365.3,314.5L362.6,315.5L362.1,315.9L358.6,317.8L357.7,318.0L355.4,317.1L353.4,316.7L349.9,317.1L345.3,319.1L341.9,317.4L337.7,314.0L336.1,312.4L333.8,311.1L332.1,308.2L332.0,306.8L331.1,305.6L329.1,303.0L328.2,301.7L326.9,299.5L324.4,298.2L324.2,296.3L324.2,295.3L322.6,292.1L325.0,288.6L326.2,283.5L325.9,279.8L324.0,276.2L324.4,274.8L324.2,273.1L326.7,268.6L329.1,266.0L330.1,262.4L332.7,259.8L333.9,257.5L337.0,255.6L340.0,254.0L341.4,251.2L341.0,248.3L342.3,246.2L344.0,243.7L346.0,242.8L347.6,241.6L349.1,238.9ZM475.3,361.7L477.2,369.5L477.6,370.8L475.9,372.1L474.7,376.8L472.1,383.8L469.9,390.4L468.1,395.3L464.4,397.1L461.1,395.6L460.6,391.4L460.2,387.2L462.7,382.5L462.4,377.3L463.6,372.6L468.0,371.3L471.9,366.9L474.1,363.8ZM501.2,457.2L502.9,456.9L504.3,458.0L503.2,459.2L501.2,459.2L500.7,458.5ZM305.1,285.8L306.0,285.8L305.7,286.5ZM308.4,290.5L309.1,291.0L308.7,291.6L308.3,291.3ZM492.3,382.5L493.1,382.8L492.8,383.8L492.2,383.6ZM487.3,384.9L488.3,385.0L488.4,385.9L487.5,385.9ZM461.6,360.1L462.1,360.4L462.0,361.4L461.5,361.2ZM581.6,315.8L586.7,316.7L588.7,319.5L589.6,320.6L593.7,324.4L596.7,326.0L599.7,328.8L601.1,331.4L603.2,333.0L603.1,335.4L606.5,337.7L606.7,338.5L606.0,341.3L605.6,345.6L603.0,345.6L602.4,343.7L599.5,341.3L597.9,340.6L595.0,336.7L593.6,332.9L590.7,329.6L589.8,326.0L586.2,322.1L583.6,319.5L581.7,316.8ZM604.2,348.1L606.2,345.8L608.0,346.2L611.4,346.8L612.3,348.0L616.1,348.5L617.4,347.1L618.7,347.7L621.2,348.4L621.5,349.2L624.3,350.3L625.3,350.7L625.0,352.9L621.9,352.0L617.3,351.9L612.8,350.5L610.5,350.6L607.1,349.6L604.9,348.3ZM613.4,328.1L613.5,326.5L614.9,325.2L616.5,326.0L618.7,324.4L618.9,323.0L622.6,322.1L624.7,318.5L627.0,317.4L629.1,314.8L630.7,312.2L633.0,313.7L634.0,315.2L636.7,316.8L634.6,318.9L633.1,319.6L633.9,322.6L632.6,325.2L634.2,325.2L636.5,327.8L634.0,328.3L633.1,330.4L632.6,332.5L631.5,333.8L630.7,336.1L629.9,339.8L626.2,341.1L626.2,339.3L622.6,338.7L619.8,339.5L616.4,338.2L616.0,334.8L614.0,332.0L614.0,330.4ZM638.9,328.6L640.9,327.0L645.8,327.9L650.1,326.0L650.8,326.5L649.2,329.1L645.8,329.1L641.2,329.2L639.3,330.4L638.8,332.7L640.9,334.0L642.5,332.7L646.7,332.9L644.1,334.8L642.5,335.4L644.2,338.7L645.9,341.6L644.9,343.2L643.1,342.9L642.1,340.8L641.0,337.4L639.6,339.8L639.3,344.7L637.3,344.7L637.5,339.5L636.0,337.4L637.2,333.8L638.4,330.7ZM664.2,332.5L667.6,331.4L671.1,332.5L671.7,336.9L674.3,339.0L677.9,335.6L682.1,335.4L686.4,336.9L687.1,337.2L693.0,339.7L695.0,340.6L697.8,344.0L700.4,346.0L702.2,346.8L700.2,348.0L702.3,351.3L705.0,353.9L708.1,357.2L708.2,358.2L705.1,357.2L700.1,355.2L697.7,351.3L694.3,350.5L691.9,352.0L690.5,354.1L686.0,354.1L682.7,351.5L679.2,352.3L681.6,349.2L679.8,344.7L675.3,342.1L670.8,340.6L668.5,341.1L668.2,337.7L669.8,336.9L666.4,335.6L664.2,334.0ZM645.5,357.4L648.1,354.4L649.5,353.9L654.7,352.3L652.7,353.9L649.1,355.4L646.7,357.0ZM625.4,351.5L628.1,352.3L626.8,353.3ZM628.5,352.3L630.4,352.0L629.8,353.6L628.7,353.3ZM630.6,352.6L633.4,351.5L635.9,352.3L635.6,353.2L632.1,353.9L630.5,353.9ZM637.5,352.3L640.2,352.0L644.6,351.5L644.3,352.8L640.1,353.6L637.6,353.3ZM635.4,354.9L638.2,354.6L639.4,356.5L637.5,357.2L635.3,355.9ZM656.1,327.8L657.2,324.7L658.9,326.5L657.3,329.1L658.4,332.2L657.0,332.5L656.4,329.6ZM657.1,338.5L660.6,337.7L663.5,339.0L661.7,339.8L657.5,339.5ZM652.5,338.7L655.3,338.7L655.2,340.0L652.9,340.3ZM604.7,335.1L607.0,334.6L608.1,337.2L606.5,338.2L605.4,336.1ZM636.0,282.2L637.3,281.9L639.6,282.2L640.6,285.3L640.6,288.2L639.4,289.0L639.8,291.8L641.4,293.4L644.0,294.2L646.3,297.6L644.3,296.5L642.3,294.9L640.4,294.2L637.9,294.4L637.7,292.9L638.4,292.3L636.4,291.8L635.6,289.2L635.1,287.9L636.1,287.1L636.0,284.8ZM642.8,312.4L643.3,309.5L645.7,307.7L648.7,308.2L650.2,304.9L652.4,308.2L653.3,311.4L652.5,314.0L651.3,312.4L650.8,315.8L647.7,314.0L647.3,311.4L645.9,311.1L644.5,311.1ZM646.8,297.8L649.1,297.8L650.4,301.5L648.7,301.2ZM647.3,300.7L648.8,301.7L649.5,303.8L648.6,304.1ZM643.1,304.3L644.5,302.0L645.5,303.0L644.9,306.7L643.4,305.6ZM641.5,299.6L644.3,300.4L643.4,303.0L642.1,303.0ZM645.2,304.6L646.2,301.2L646.7,301.5L645.9,304.6ZM637.6,295.5L639.4,295.5L640.3,297.6L639.5,298.6L638.4,296.8ZM631.5,308.5L635.7,300.9L636.8,302.8L632.9,308.2ZM689.0,358.3L690.7,363.0L690.6,367.9L693.8,369.2L693.5,370.8L694.0,374.5L694.0,379.7L695.0,380.6L698.0,382.5L699.3,385.5L702.0,389.6L701.5,391.4L703.5,394.3L705.8,395.6L703.6,401.8L703.5,405.1L700.2,409.9L697.1,414.3L692.5,418.6L689.8,421.9L685.6,426.6L684.6,428.1L679.8,429.2L674.6,432.3L672.7,430.5L673.2,429.2L668.9,431.5L665.5,430.3L663.4,429.4L663.4,426.6L664.2,423.2L661.5,423.3L663.3,421.4L662.7,419.8L659.4,422.4L662.4,418.5L664.5,415.4L658.4,420.3L657.7,421.4L657.0,418.5L656.4,415.9L655.8,414.1L651.1,412.5L646.1,413.0L638.9,414.6L633.8,416.4L631.8,418.8L628.3,418.8L624.1,419.0L618.6,421.8L614.5,421.4L613.2,419.9L613.6,418.0L615.4,417.2L616.7,413.8L616.8,408.6L616.8,405.5L616.5,400.8L616.0,398.2L617.1,394.3L618.5,389.6L619.9,387.2L620.9,387.4L624.4,385.1L626.4,384.1L630.6,383.3L635.2,381.8L639.9,377.3L642.1,373.1L643.3,375.5L644.7,372.9L648.3,368.5L652.1,366.4L655.0,369.5L658.0,369.2L659.5,365.6L661.8,362.9L665.9,361.9L666.1,360.1L671.3,362.2L675.7,362.2L673.2,365.6L671.4,369.5L675.5,372.6L679.4,376.0L680.4,376.5L683.5,372.1L685.8,366.9L686.5,363.2L688.0,359.1ZM668.5,436.4L671.7,437.5L675.8,437.0L673.6,440.3L671.0,442.9L668.0,443.9L666.5,443.7L666.6,441.3L667.8,439.3ZM738.3,420.1L738.9,421.6L740.4,422.4L739.2,426.6L741.2,425.8L740.4,428.4L742.2,429.4L745.6,428.7L743.5,431.0L741.8,432.3L739.3,433.1L737.4,435.4L731.4,438.8L731.0,438.0L733.4,435.7L733.4,434.1L732.3,433.3L735.3,431.5L737.4,428.9L738.3,426.6L738.1,422.4ZM728.1,435.9L727.4,438.0L730.1,437.7L728.7,439.3L724.2,442.4L721.7,444.4L717.5,445.7L713.1,449.8L708.9,451.6L706.7,451.6L703.9,450.6L704.9,449.0L711.9,444.9L718.1,442.4L722.2,439.8L726.1,437.0ZM733.4,382.8L735.9,384.6L738.6,388.0L738.7,388.8L736.8,388.0L734.0,384.9ZM765.1,376.5L767.4,375.5L768.1,377.1L766.0,378.1L764.8,377.6ZM769.0,373.7L772.2,372.6L771.7,373.7L769.2,374.7ZM742.3,369.5L743.7,369.5L743.6,371.3L742.4,371.3ZM743.6,372.4L744.4,372.6L743.9,373.7L743.3,373.4ZM744.3,376.0L745.4,376.3L744.8,376.9ZM722.1,347.9L724.2,349.7L723.7,350.5L722.2,348.9ZM728.4,354.4L731.3,355.2L730.9,356.2L728.6,355.9ZM731.1,352.0L732.5,354.4L731.9,355.2L731.0,353.3ZM726.5,350.2L729.3,352.0L728.8,352.6L726.6,351.3ZM732.2,357.0L734.4,358.0L733.6,358.7L732.1,357.8ZM703.5,344.7L707.5,343.4L710.9,343.4L712.6,341.3L712.8,343.2L710.8,345.3L707.2,346.6L703.9,345.8ZM709.6,337.2L712.3,339.3L714.4,342.1L713.9,342.7L711.2,339.0ZM718.0,344.5L719.9,346.0L720.7,348.1L719.3,347.6L718.1,345.5ZM664.8,216.1L665.5,214.8L668.9,212.3L667.8,213.0Z" fill="url(#hatch)" fill-rule="evenodd" stroke="#cfcfcf" stroke-width="0.5" stroke-linejoin="round"/>
<path d="M199.3,299.5L197.0,301.5L195.5,303.0L195.1,306.2L196.2,308.8L196.3,311.1L197.2,312.2L201.5,312.2L203.1,314.5L207.4,314.2L206.7,316.6L206.5,318.7L207.7,321.5L206.5,323.1L207.9,324.4L208.6,327.2M208.6,327.2L208.1,326.0L206.2,325.8L201.9,326.0L201.7,327.6L203.2,327.8L203.4,328.7L201.3,329.0L201.3,330.8L202.8,333.0L201.6,341.3M201.6,341.3L199.9,340.3L201.3,337.4L199.3,336.3L196.8,336.7L194.8,336.7L192.9,333.7L190.3,330.9L189.3,330.7M189.3,330.7L188.5,330.1L186.9,329.4L184.3,329.4L183.6,328.3L181.0,326.8M189.3,330.7L188.6,334.3L186.2,337.2L183.5,338.2L182.4,339.3L181.6,342.4L180.9,343.4L179.5,342.0L177.5,341.9L178.2,340.6L177.7,339.3M201.6,341.3L199.7,341.5L194.9,344.2L194.3,346.3L193.3,348.4L192.6,349.9L195.1,353.9L196.8,355.2L197.1,356.5L200.9,355.0L200.9,359.1L203.2,358.9M203.2,358.9L205.5,363.0L205.0,366.1L205.3,367.7L204.3,369.0L204.9,370.8L204.0,371.1L205.5,372.6L204.4,375.5L204.8,376.0M204.8,376.0L202.9,378.2M204.8,376.0L206.0,377.6L206.5,379.9L207.7,381.2L207.3,383.6L208.7,386.4L209.6,388.5L211.4,389.9M211.4,389.9L211.8,390.4L211.4,393.0L209.1,394.3L209.5,399.0L210.3,400.8L208.8,402.9L207.8,404.7L207.5,406.8L208.2,409.4L207.3,411.7L209.2,416.4L210.6,419.5L209.9,422.2L210.4,424.5L209.2,425.8L210.4,429.4L210.2,431.8L210.4,434.6L211.0,437.2L211.8,440.3L213.3,443.7L214.6,445.7L215.2,448.8L215.7,451.3L215.6,453.9L216.2,456.4L215.2,459.0L217.2,462.0L219.1,462.7L219.6,464.5L221.0,465.3L224.7,465.3L228.2,466.0M211.4,389.9L213.1,387.2L215.6,388.0L217.6,389.8L217.9,390.0L218.4,387.7L221.0,387.7L221.4,388.4M221.4,388.4L225.5,392.4L229.1,394.0L232.6,395.8L233.6,396.3L232.6,399.7L232.0,401.6L234.9,401.8L237.1,401.8L238.0,401.6L240.3,400.0L240.4,397.1M240.4,397.1L242.2,397.1L242.8,400.5L241.6,401.8L239.0,404.2L237.2,407.3L235.3,409.1M235.3,409.1L235.0,411.2L235.1,414.3L235.0,417.7L235.3,419.0M235.3,409.1L239.1,410.7L241.5,412.0L243.9,413.6L245.6,415.6L246.0,415.6L246.1,418.4M240.4,397.1L240.7,393.2L239.9,392.7L238.1,392.7L237.1,389.1L235.3,388.3L232.1,388.0L231.8,384.6L231.1,382.9M231.1,382.9L228.7,380.8L222.9,381.5L221.8,383.8L221.4,388.4M231.1,382.9L231.5,379.9L232.1,377.8L229.9,375.2L229.9,372.9L225.6,372.9L225.2,369.8L224.4,366.4L220.9,364.8L217.4,363.0L215.1,362.7L213.1,361.2L212.9,358.6L212.9,355.9L209.9,356.2L206.8,358.3L205.2,359.1L203.2,358.9M208.6,327.2L209.9,328.4L211.7,328.1L212.9,327.3L215.2,325.4L216.6,324.7L215.2,323.9L214.8,321.0L213.9,319.7L217.6,320.8L218.3,319.8L220.2,319.6L222.5,318.1L222.9,316.8M222.9,316.8L221.4,314.9L222.2,312.9L224.0,312.2L223.2,310.9L225.3,308.8M222.9,316.8L224.6,317.2L225.2,318.9L225.6,320.2L224.7,324.1L226.3,326.8L227.2,327.3L229.0,326.5L230.6,325.3L232.5,325.3M232.5,325.3L230.7,321.5L229.1,320.0L229.6,317.6L230.9,316.1L231.3,314.9M238.4,315.3L237.3,317.4L238.3,321.0L236.9,324.3M232.5,325.3L233.9,325.6L233.9,323.9L236.9,324.3M236.9,324.3L238.7,324.4L240.8,324.7L242.0,322.3L243.7,319.5M228.1,466.9L230.5,472.4M105.9,245.7L111.3,245.2L110.9,245.7L118.1,248.7L124.4,248.7L124.8,247.6L128.5,247.6L130.9,250.5L131.3,253.1L133.8,254.9L135.3,253.0L138.2,252.8L139.3,254.5L139.7,256.6L141.0,258.6L141.2,261.6L143.1,262.5L145.4,262.8M152.2,292.5L152.4,290.6L153.7,288.6L156.7,288.5L156.9,287.7L154.9,285.4L155.8,285.4L156.0,283.9L160.2,283.9M160.2,283.9L160.9,283.7L162.3,282.2L162.8,282.2M160.2,283.9L159.5,289.0L160.2,289.0M161.7,289.5L159.2,291.6L158.7,292.8M158.7,292.8L158.1,293.4L156.8,294.6M158.7,292.8L160.5,294.0L161.7,294.2L162.3,294.4L162.0,295.7M163.0,296.5L164.5,295.7L166.0,293.9L168.7,292.3L169.4,292.1L173.0,291.3M166.3,301.5L168.1,301.7L170.1,302.4L171.0,302.0M173.2,305.5L172.4,306.7L172.4,308.0L172.3,309.4M115.6,203.1L171.1,203.1L171.6,202.1L171.8,203.9L174.9,204.1L177.3,205.4L181.3,205.6L183.8,204.9L189.6,208.4L189.8,209.5L191.3,210.7L191.1,211.2L192.6,212.5L190.5,218.4L188.3,220.5L189.0,221.8L197.4,218.9L197.7,217.7L197.7,217.1L202.8,216.9L204.3,215.3L207.8,213.3L215.0,213.3L216.7,212.5L218.4,210.7L219.6,208.9L221.9,207.0L223.6,207.3L224.4,208.1L223.2,211.5L223.7,212.5L224.4,213.0M128.3,153.8L104.0,175.3L106.8,176.0L107.1,178.6L110.4,177.2L113.4,176.9L113.6,179.6L113.1,183.2L114.7,185.7L112.6,188.1M383.1,178.1L384.4,177.7L384.1,176.2L385.5,175.5L385.0,173.6L386.0,172.8L384.6,171.9L384.7,170.5L384.2,168.9L384.2,167.5L385.5,166.6L387.4,166.1L386.6,165.2L387.8,163.6L387.8,161.8L389.3,161.3L390.6,159.3L390.0,158.6L391.8,157.3L393.0,156.4L396.3,156.6L396.5,155.2L396.9,155.1M396.9,155.1L398.6,154.6L400.2,155.9L402.3,155.7L404.6,156.2L405.7,155.3L405.7,153.7L408.9,153.0L411.3,154.2L411.0,155.2M411.0,155.2L412.6,153.8L413.7,153.5M396.9,155.1L397.7,155.5L399.6,156.4L402.2,157.5L402.9,158.8L403.2,161.1L404.4,162.4M411.0,155.2L410.5,156.4L413.3,158.2L412.4,159.9L414.8,162.7L414.8,164.7L416.4,166.1L415.7,167.1L418.9,169.1L416.8,171.7L413.4,174.7M414.4,177.3L414.2,177.7L413.5,178.9L414.0,180.3L414.0,181.9M408.2,181.1L409.9,180.8L411.3,181.3L412.4,181.9L414.0,181.9M414.0,181.9L415.0,182.5L415.0,183.7L416.1,185.3M402.7,185.5L404.3,184.7L406.3,184.9L409.9,184.7L411.3,185.3L413.4,186.4M413.4,186.4L415.3,186.1L416.1,185.3M413.4,186.4L413.5,187.9L412.2,188.5L411.9,189.8L409.9,190.8L408.1,190.7M408.1,190.7L406.6,189.7M406.6,189.7L406.0,188.1L404.8,187.9L402.9,187.4M400.5,189.5L406.6,189.7M408.1,190.7L409.4,193.8L408.1,194.8L409.3,196.8M409.3,196.8L410.4,198.6L408.6,201.1L408.1,201.8L407.9,202.9M407.9,202.9L405.7,202.1L403.3,202.2L402.3,202.6L401.4,201.7L400.4,201.8M400.4,201.8L398.5,200.6L396.5,199.8L396.2,199.4L395.0,198.9L394.4,199.1L392.9,198.2L392.0,198.4M392.0,198.4L392.1,197.1L391.3,195.5L391.2,194.1L390.2,193.4L390.6,192.3L390.2,190.8M392.0,198.4L390.9,198.1L389.4,198.8L387.5,199.7L386.7,199.8L387.6,201.1L390.4,203.7M390.4,203.7L392.2,204.1L392.7,203.1L395.0,203.7L396.7,204.1M396.7,204.1L397.2,203.5L398.9,202.8L400.4,201.8M396.7,204.1L397.3,205.6M397.3,205.6L398.9,206.3L400.7,206.0L402.8,205.3L403.9,204.4L406.4,204.7L407.3,204.6M407.3,204.6L407.9,202.9M407.3,204.6L408.9,205.6M408.9,205.6L407.3,207.2L405.9,209.7L404.1,210.4M404.1,210.4L402.7,210.3L401.3,210.9M401.3,210.9L398.9,210.9L397.4,210.2L396.5,209.5M396.5,209.5L395.4,208.5M395.4,208.5L396.1,207.2L397.3,206.4L397.3,205.6M395.4,208.5L393.2,209.2L390.6,209.4M390.6,209.4L387.9,208.9L387.4,208.1L385.0,208.7L383.9,208.5M383.9,208.5L382.1,208.1L382.0,206.9M382.0,206.9L383.8,206.8L384.9,207.2L387.3,206.5L389.0,206.9L388.9,206.0L388.6,205.1L389.6,204.6L390.4,203.7M382.0,206.9L380.0,206.3L378.0,206.7M378.0,206.7L376.6,207.4L375.0,209.3L375.0,210.1L376.5,209.7L376.6,211.1L377.0,210.9M377.0,210.9L378.7,210.9L379.8,209.6L381.0,211.2L381.6,209.5L383.2,210.1L383.3,209.2L383.9,208.5M377.0,210.9L376.6,213.0L377.1,215.1L378.4,215.5L378.1,216.4M358.8,217.5L361.1,218.7L364.0,219.1L366.1,219.7L369.1,219.9M344.0,221.4L345.3,220.7L348.7,221.1L349.5,222.0L348.0,223.6L347.7,227.0L346.6,227.1L347.6,228.8L346.9,230.3L347.6,230.8L346.5,232.4L346.6,233.4M367.6,197.8L368.5,198.7L370.9,200.6L372.1,200.2L374.2,201.7M374.2,201.7L375.3,201.9M375.3,201.9L377.4,202.7L379.1,203.2L378.3,204.9L378.0,206.7M369.2,197.1L371.1,197.1L372.4,196.9L374.1,197.7L373.9,198.6L374.5,198.7M374.5,198.7L375.3,199.7L374.8,200.2M374.8,200.2L374.2,201.7M374.8,200.2L375.6,201.1L375.3,201.9M374.5,198.7L374.8,197.1L374.4,195.9L375.9,195.7L376.3,194.6L376.4,193.9L376.6,192.3M379.2,188.4L380.7,188.6M390.5,212.1L392.6,211.8L394.0,212.0L394.7,210.2L396.5,209.5M390.6,209.4L390.0,210.2L390.5,211.2L390.8,211.8M401.8,213.7L399.7,213.0L397.6,212.8L396.2,213.3L395.0,212.8L395.1,213.8L396.1,215.3L397.9,217.1L399.3,218.4L401.2,219.6M401.3,210.9L401.9,212.5L402.5,212.8L401.8,213.7M401.2,219.6L401.3,220.0M401.8,213.7L402.6,215.1L403.2,216.0L402.6,217.3M402.6,217.3L401.5,217.9L401.2,219.6M402.6,217.3L405.1,218.8L404.6,219.1M404.6,219.1L405.5,217.9L407.3,218.9L408.0,219.2L407.7,220.4M407.7,220.4L409.4,220.2M409.4,220.2L409.6,218.7L410.5,217.9L409.1,216.4L409.5,215.3M409.5,215.3L409.0,214.1L406.8,213.8L406.9,212.9L405.3,211.4L404.1,210.4M409.5,215.3L410.4,216.4L413.5,216.6L415.6,216.8L418.5,215.5L419.2,215.6L422.0,216.5M408.9,205.6L412.2,205.8L416.4,205.0M416.4,205.0L418.7,207.4L420.0,209.2L420.6,212.1M420.6,212.1L423.6,212.4M416.4,205.0L418.7,204.5L421.1,205.8L421.9,207.0L424.1,209.7L422.0,210.5L421.9,210.7L420.6,212.1M409.3,196.8L411.8,195.8L415.9,196.6L419.9,196.8L423.0,197.3L423.5,195.4M423.5,195.4L428.9,194.7L430.4,196.0L432.1,197.6L433.5,199.6L437.3,199.8L442.9,201.6L442.5,203.6L443.2,204.9L443.2,206.0L440.4,206.8L440.4,207.9M423.5,195.4L425.1,195.3L424.0,192.6L426.2,191.9L424.1,190.3L421.9,188.6L421.7,186.6L416.1,185.3M421.3,221.0L419.2,221.0L418.0,221.8M418.0,221.8L415.9,222.9L413.1,222.3L410.9,222.7M410.9,222.7L409.4,220.2M418.0,221.8L417.6,224.2M410.9,222.7L409.0,223.3L406.9,224.0M406.9,224.0L406.2,225.9L405.1,227.0M406.9,224.0L405.8,222.8L405.8,221.4M405.8,221.4L404.6,219.6M404.6,219.6L403.3,221.4M405.8,221.4L407.7,220.4M404.6,219.6L404.6,219.1M349.2,188.8L348.5,189.6L347.3,190.3L347.8,190.9L349.0,191.1L349.6,190.5L350.2,191.3L351.0,191.2M357.8,238.9L358.8,241.8L359.7,246.5L354.6,249.9L351.5,252.5L347.1,253.5L343.3,255.6L343.2,259.2M343.3,258.3L333.2,258.3M343.2,259.2L343.2,262.6L335.7,262.6L335.6,269.3L333.3,270.4L333.0,274.8L324.4,274.8M343.2,259.2L351.7,265.2M351.7,265.2L348.0,265.2L350.0,290.0L341.4,290.0L338.2,290.3L336.4,289.7L334.7,291.8M334.7,291.8L332.3,288.4L329.6,287.0L326.2,287.4L325.0,288.6M351.7,265.2L365.1,275.4L365.3,276.4L369.8,278.8L370.0,280.9L372.2,280.5M372.2,280.5L375.7,279.7L379.4,276.1L389.5,269.1M389.5,269.1L388.4,267.1L385.4,266.3L383.6,262.4L384.6,258.7L384.4,256.6L383.6,251.6M383.6,251.6L382.4,246.7L380.7,245.7L378.9,242.3L380.4,239.9L380.5,236.6L381.1,234.1M383.6,251.6L385.0,249.6L385.2,247.8L387.9,245.9L387.8,244.0M417.8,247.9L417.1,251.7L418.0,254.3L418.9,273.1M418.9,273.1L419.1,278.3L416.8,278.3L416.9,279.6M416.9,279.6L398.5,269.3M398.5,269.3L394.5,271.5L389.5,269.1M418.9,273.1L445.7,273.1M416.9,279.6L417.2,289.5L414.7,290.0L412.8,296.5L414.1,301.7L415.0,302.0M398.5,269.3L396.6,274.9L397.6,278.3L397.8,283.5L397.8,286.3L393.3,292.6L393.6,294.7M393.6,294.7L390.0,296.3L385.4,296.0L380.8,295.7L378.3,296.5L375.1,294.2L371.9,295.2L370.8,299.9M372.2,280.5L372.2,286.3L370.5,290.3L365.5,290.5L363.1,291.4M363.1,291.4L364.6,294.9L367.4,297.3L368.0,299.4M368.0,299.4L370.8,299.9M363.1,291.4L361.0,291.2L358.0,293.4L355.7,294.7L352.7,296.0L352.5,298.3L350.0,300.7L349.9,303.2M349.9,303.2L348.3,302.8L346.5,303.8L344.3,303.9M344.3,303.9L343.5,301.7L342.6,300.4L342.0,298.1L338.1,299.1L336.5,298.1M336.5,298.1L336.5,296.5L335.2,294.2L334.7,291.8M336.5,298.1L334.4,298.2L331.2,297.4M331.2,297.4L327.8,297.4L324.4,298.2M331.2,297.4L331.2,299.9L328.9,300.4L328.2,301.7M324.2,294.9L328.3,294.4L331.0,295.2L331.0,295.7L328.3,295.7L324.3,296.4M332.0,306.8L333.9,304.6L336.9,304.3L338.2,306.7L338.9,308.2M338.9,308.2L338.2,310.1L336.1,312.4M338.9,308.2L340.7,308.5L341.2,311.1L343.0,310.7M343.0,310.7L343.3,313.5L345.5,315.3L345.3,319.1M343.0,310.7L344.9,308.5L344.3,303.9M355.4,317.1L356.1,314.8L355.2,312.7L356.8,309.0L356.4,305.6L356.1,305.4M356.1,305.4L352.7,305.2L349.9,303.2M356.1,305.4L356.1,301.7L361.4,301.7L362.6,301.5M362.6,301.5L363.7,304.3L363.7,308.2L363.9,312.2L365.3,314.5M366.3,314.2L366.2,306.9L365.8,305.6L364.4,303.3L364.6,301.7M362.6,301.5L364.6,301.7L368.0,299.4M368.8,313.8L368.9,310.1L369.0,306.9L370.8,303.8L371.3,302.2L370.8,299.9M382.1,318.0L383.2,315.0L383.9,313.7L386.0,312.4L388.5,313.2L389.7,311.9L390.8,308.2L393.0,304.3L394.1,301.5L396.0,300.4L395.0,298.1L394.8,296.3L393.6,294.7M394.8,296.3L397.0,298.9L397.1,302.5L398.3,304.5L395.1,304.3L394.5,305.4L398.1,310.9M398.1,310.9L395.9,314.2L396.1,317.4L397.1,320.0L399.8,324.7M399.8,324.7L398.9,325.8L395.9,324.8L393.2,324.7M393.2,324.7L388.7,324.7L385.1,324.4M388.7,324.7L388.7,327.8L384.7,327.8M393.2,324.7L392.9,327.0L395.2,327.0L395.8,331.7L395.7,335.4L394.5,336.7L391.3,336.4L390.2,337.7L389.2,337.7L388.1,340.6M390.1,343.4L392.0,341.9L392.7,342.4L391.3,345.3L390.6,345.5M392.7,342.4L395.7,343.0L397.7,341.6L399.8,336.1L401.5,333.5L403.5,331.7L403.8,327.8L404.2,324.1L405.4,321.3M405.4,321.3L400.7,321.3L399.8,324.7M405.4,321.3L405.3,318.9L407.2,317.1L409.9,318.9L414.1,319.7L415.2,317.9L418.7,317.1L420.7,317.4L425.7,317.2M398.1,310.9L400.4,310.1L405.0,309.5L406.1,306.9L409.3,306.4L412.3,302.8L415.0,302.0M415.0,302.0L416.6,304.6L416.5,307.7L417.2,307.7M417.2,307.7L420.7,311.4L423.2,313.2L425.7,317.2M417.2,307.7L419.4,304.9L423.5,305.6L426.8,306.0L430.2,304.9L431.3,303.6L434.1,304.9L436.7,301.7L436.6,299.9L438.5,298.6L438.4,302.5L440.3,305.6L440.7,305.6M440.7,305.6L441.1,302.8L442.6,299.6L445.1,297.3L445.9,293.1M445.9,293.1L445.6,290.8L446.6,286.1L450.1,283.5M445.9,293.1L449.0,291.6L451.5,292.3L454.3,292.7L456.2,294.4L459.5,297.8M459.5,297.8L461.1,297.3M459.5,297.8L458.2,299.9L458.3,301.7L460.9,301.8M460.9,301.8L461.5,300.5M460.9,301.8L460.6,303.6L462.1,305.9L463.5,306.9L470.4,309.5L472.7,309.5L465.9,317.6L462.6,317.9L459.2,320.0L458.9,320.0M458.9,320.0L456.4,319.5L454.3,320.2L453.4,321.4L450.2,321.0L447.4,318.8L445.3,318.8L445.1,318.4M458.9,320.0L456.9,323.1L457.0,332.6L458.2,334.7M440.7,305.6L440.8,308.0L438.3,310.1L441.8,312.4L443.0,315.0L443.7,316.3L445.1,318.4M445.1,318.4L441.7,318.4L440.8,319.4M440.8,319.4L441.9,321.3L443.1,325.4L442.0,327.5L440.8,329.9L440.6,333.0M440.6,333.0L449.1,338.2L449.3,339.5L452.7,342.6M440.8,319.4L438.5,320.6L436.2,321.0L433.9,320.8L433.5,321.3M433.5,321.3L430.4,318.7L427.9,319.2L425.7,317.2M433.5,321.3L433.2,324.1L434.6,324.9L431.6,328.1L431.2,330.4L430.7,331.7L430.7,334.0M430.7,334.0L432.8,333.1M432.8,333.1L440.6,333.0M432.8,333.1L433.6,336.4L432.9,336.7M432.9,336.7L431.4,337.4L429.3,337.4M430.7,334.0L429.8,334.8L429.3,337.4M429.3,337.4L429.7,339.0L430.1,342.0M432.9,336.7L433.4,339.0L431.6,341.9L430.1,342.0M430.1,342.0L430.6,346.0L432.6,350.7L433.1,351.8M433.1,351.8L434.8,353.6L438.1,354.9M438.1,354.9L440.3,355.6L441.6,356.5L442.5,360.6M442.5,360.6L446.1,360.9L449.5,359.9L453.0,358.8L455.2,357.8M438.1,354.9L438.8,358.6L437.2,365.9L438.3,366.9M438.3,366.9L441.2,368.2L440.7,371.6L442.8,375.1L444.0,372.1L444.4,369.2L441.6,365.6L442.5,360.6M433.1,351.8L428.9,352.4L427.7,354.4L428.2,358.3L427.5,361.2L428.9,362.7L430.7,362.1L430.6,365.5L426.6,362.7L424.8,360.6L420.5,359.6L418.4,359.3L417.4,358.7M417.4,358.7L417.4,364.3L412.8,364.3L412.6,372.6L415.7,376.3M390.8,346.0L393.3,345.7L400.7,345.7L401.4,349.2L402.9,351.5L406.2,351.3L407.1,348.6L409.9,349.4L412.6,349.4L412.8,355.4L413.4,359.6L417.4,358.7M389.2,375.4L393.2,374.7L394.4,375.8L404.6,375.8L410.2,377.3L415.7,376.3L419.9,376.8M410.2,378.1L409.9,387.7L407.6,387.7L407.4,394.9M407.4,394.9L407.0,404.4L404.7,405.7L401.2,405.2L399.1,405.0M407.4,394.9L409.0,400.3L411.7,399.0L413.4,396.6L417.8,397.4L419.8,397.1L422.9,393.5L423.2,392.0L426.3,389.3L428.7,388.2M428.7,388.2L425.7,386.4L425.1,383.8L421.9,381.2L419.9,376.8M410.2,378.1L415.4,377.3L418.1,377.3L419.9,376.8M419.9,376.8L423.8,377.2L428.3,372.1L431.8,371.1M431.8,371.1L431.4,369.0L438.3,366.9M431.8,371.1L433.8,372.1L437.4,373.9L437.4,377.3L436.6,379.9L437.0,382.5L435.9,385.9L433.0,388.8M428.7,388.2L433.0,388.8M433.0,388.8L434.3,394.3L434.0,398.0L434.2,400.4L435.9,400.4M434.0,398.0L432.1,397.9L431.3,400.3L431.6,401.3L434.2,400.4M422.3,407.6L424.7,405.2L427.5,406.3L427.6,407.6L425.2,410.2L423.0,409.6L422.3,407.6M437.9,248.8L439.8,253.5M450.0,222.3L452.1,222.4L454.2,223.3M454.2,223.3L455.1,225.7L457.8,227.1M457.8,227.1L456.3,227.7L457.3,230.3L458.9,233.6M458.9,233.6L456.1,233.3L453.7,233.7M453.7,233.7L450.8,233.7L448.7,234.5L445.5,234.4L442.3,234.9L441.7,235.9L440.7,237.0L440.2,236.8M453.7,233.7L451.7,235.5L452.1,239.7L451.8,240.7L447.3,243.4M447.3,243.4L443.3,246.2L440.8,245.2M440.7,240.1L441.7,240.2L442.3,241.3L441.1,242.8L440.8,243.6M439.3,244.1L440.8,243.6M440.8,243.6L440.8,245.2M440.8,245.2L440.5,245.9L440.6,248.3L440.5,249.6L440.0,253.4M447.3,243.4L448.6,246.6M448.6,246.6L443.9,248.3L446.4,250.9L445.4,252.2L443.8,252.6L442.5,254.3L440.1,253.9M448.6,246.6L451.3,247.2L455.3,249.3L461.6,254.3L465.4,254.5L465.7,254.5M465.7,254.5L466.7,252.3L468.0,251.9L468.5,252.2M465.7,254.5L467.8,254.8L468.5,256.0L470.0,256.0M458.9,233.6L460.7,236.6L462.5,237.1L461.7,240.2L461.6,241.8L463.5,243.9L467.7,247.0L467.6,249.6L468.5,250.9L469.9,252.3M459.9,287.7L460.7,285.0L462.9,285.0L468.0,285.4L469.4,286.1L471.9,283.0L480.4,280.9M480.4,280.9L486.9,278.3L488.0,273.1L486.8,271.2M486.8,271.2L480.9,270.6L478.4,267.6L478.4,267.3M486.8,271.2L487.8,267.3L488.0,265.5L488.9,265.5M480.4,280.9L483.3,287.0M476.4,265.9L477.4,266.3M445.9,217.4L447.3,217.0L451.2,217.9L454.4,219.5L456.7,219.2L460.1,221.3M460.1,221.3L459.8,222.0L460.7,223.3L457.4,222.8M457.4,222.8L454.2,223.3M457.4,222.8L458.9,224.1L460.1,225.7L459.4,226.4L461.5,227.5L461.9,229.1M461.9,229.1L460.9,229.2M460.9,229.2L460.0,227.7L458.1,226.7L457.8,227.1M457.8,227.1L459.6,228.8L460.9,229.2M461.9,229.1L462.7,228.2L464.1,227.0L465.4,227.7L465.0,229.3L467.0,230.2M460.1,221.3L462.2,222.8L463.6,223.1L464.7,221.4M462.8,209.7L461.2,207.2L457.8,205.6L456.5,204.6L457.0,202.6L456.1,200.8L457.1,199.8L460.1,200.8L459.5,199.1L462.8,196.3L466.1,196.8L468.4,197.1L470.7,198.1L473.4,199.1L476.7,198.3L478.7,197.8L481.0,199.2L484.6,198.6L484.5,197.3L480.7,195.5L481.8,193.3L481.6,191.6L482.7,190.6L486.3,189.8L488.6,189.7L493.7,188.1L498.3,187.4L500.4,190.1L504.8,190.6L510.6,190.1L511.1,189.6L514.4,192.3L521.7,198.6L528.0,198.1L533.5,201.6L536.5,201.6L538.1,202.7M538.1,202.7L535.9,204.6L537.0,207.7L531.5,207.7L531.9,212.0L527.5,213.5L530.4,218.4L530.9,220.5M530.9,220.5L528.1,218.9L520.9,218.6L517.5,217.9L516.5,220.0L511.1,219.5L511.3,220.4M511.3,220.4L508.1,222.6L506.1,223.6L503.2,223.2L500.8,220.0L500.6,218.4L497.5,216.6L491.6,217.1L489.2,215.1L483.0,211.8L478.1,213.3L480.6,222.8M480.6,222.8L477.4,221.0L473.8,220.7L472.9,221.7M480.6,222.8L482.7,222.8L485.0,218.9L488.4,220.5L489.2,222.6L493.2,223.3L495.2,226.2L499.9,228.9L505.6,233.1M505.6,233.1L508.4,233.4M508.4,233.4L508.7,230.6L506.6,227.5L508.1,225.9L509.0,224.2L511.2,223.7L512.2,225.5M511.3,220.4L510.6,222.3L513.1,222.4L517.0,224.1L514.5,225.7L512.2,225.5M512.2,225.5L511.4,227.2L513.7,227.7L515.8,227.9L519.3,227.6M530.9,220.5L527.8,222.8L524.9,223.6L523.5,225.1L520.9,225.0L519.5,226.7L519.3,227.6M519.3,227.6L522.7,230.2L523.6,233.4M523.6,233.4L520.0,232.8L519.1,234.4L516.9,234.7L515.8,231.6L513.2,232.4L511.8,233.6L508.4,233.4M505.6,233.1L503.6,233.2L502.1,234.2L499.3,237.0L497.6,238.4L495.2,237.6M495.2,237.6L494.3,235.0L492.5,234.9L489.9,232.7L485.2,230.8L483.1,231.1L480.6,232.1L478.4,233.1M495.2,237.6L495.2,240.2L494.3,241.5L494.6,242.6L496.5,248.3L498.5,248.5L498.6,250.1L497.2,252.6M497.2,252.6L499.5,255.6L502.1,256.9L502.5,259.4L503.8,260.5L501.7,261.6L500.6,262.1L500.5,264.7M497.2,252.6L501.0,253.8L504.5,253.8L509.2,252.5L508.9,249.7L511.5,248.7L514.8,247.2L514.5,244.1L516.1,243.5L514.9,241.6L517.3,240.9L517.8,238.4L516.6,236.3L518.7,234.4L521.9,234.4L523.6,233.4M523.8,234.0L525.9,234.7L528.8,237.5L531.1,237.9M531.1,237.9L529.7,240.1L524.0,239.7L523.6,241.8L524.3,243.9L525.9,244.9L527.9,246.2L526.4,247.2L526.7,249.3L525.7,251.2L524.3,254.8L523.0,255.6L519.1,257.4L517.7,259.5L519.3,261.3L519.3,262.9L521.4,265.2L521.8,266.8L516.9,267.1L515.8,268.6M531.1,237.9L534.0,241.5L535.2,243.9L535.0,245.4L536.0,248.8L537.0,249.3L541.6,251.7M541.6,251.7L540.1,255.2L542.9,256.5L548.1,259.1L551.3,259.5L552.6,260.7L556.8,261.3L559.3,261.6L558.6,257.7M541.6,251.7L543.9,251.4L546.3,253.2L549.3,255.1L551.5,255.8L553.8,257.4L556.5,257.8L558.6,257.7M558.6,257.7L560.0,257.3L560.6,259.2M560.6,259.2L561.9,256.9L564.9,257.4L566.5,258.1M560.6,259.2L560.8,260.3L562.9,260.8L565.6,260.5L567.9,260.4L566.5,258.1M566.5,258.1L568.5,257.7L570.7,255.6L573.8,254.5L575.7,254.0L578.9,256.8M578.9,256.8L578.3,258.5L579.0,259.8L575.0,261.1L574.4,264.7L573.9,268.1L572.0,267.7L572.6,269.9L572.3,272.5L571.2,273.1M571.2,273.1L570.2,270.4L568.6,270.4L567.4,268.6L567.7,267.6L569.6,265.2L568.6,264.7L563.6,264.5L563.3,262.6L560.2,261.5L559.6,263.1L561.6,264.7L560.1,266.3L561.6,267.1L562.1,269.9L563.1,272.5L563.3,274.0M571.2,273.1L571.5,274.9L571.2,276.4M578.9,256.8L580.9,258.2L582.3,258.7L583.2,262.9L581.3,265.8L581.6,267.8L584.6,267.6L584.5,269.9L586.4,270.7L586.1,272.8L588.4,274.5L590.7,274.2M590.7,274.2L588.8,277.4M588.8,277.4L587.5,278.0L584.3,279.0L584.1,282.2L583.3,282.2L586.9,287.9L586.3,290.8L589.0,294.7L589.0,296.5L590.5,299.6L588.8,303.4L588.4,304.4M588.8,277.4L589.8,277.9L589.7,278.9L591.8,279.6L591.6,282.4L592.3,284.9L594.2,283.0L595.4,283.6L596.8,282.4L598.4,282.7L600.5,285.0L600.8,287.4L602.8,289.7L603.2,291.4L602.6,293.0M602.6,293.0L599.8,293.0L597.6,293.3L596.6,294.9L596.4,295.7L597.5,297.9L598.0,299.9M602.6,293.0L604.4,293.0L604.5,294.0L607.8,292.1M607.8,292.1L607.5,290.3L606.6,288.7L605.0,287.1L601.0,281.7L597.8,280.0L599.8,278.3L598.5,277.2L598.8,276.4L595.6,276.1L594.6,273.8L592.6,272.0M592.6,272.0L592.1,275.1L590.7,274.2M592.6,272.0L594.5,271.7L596.7,271.5L599.3,269.7L602.7,271.0L602.8,273.1L606.2,274.2M607.8,292.1L608.0,294.4L608.6,298.1L606.0,299.4L604.8,300.2L605.8,302.0L603.2,301.9L601.9,303.3M592.5,313.5L594.3,314.1L594.9,315.5L596.5,315.3L597.2,314.1M538.1,202.7L539.0,202.7M539.0,202.7L540.1,204.1L545.0,205.9L548.5,209.2L549.8,212.5L555.6,213.4L560.2,215.1L564.1,219.1L571.8,219.3L575.7,219.7L583.2,221.9L587.7,219.8L591.5,219.8L595.2,216.6L593.4,213.0L597.3,213.9L600.7,211.5L601.4,209.8L607.4,208.8L600.9,206.5L596.6,205.8L596.3,203.6L596.0,201.0M539.0,202.7L541.9,200.8L543.8,199.4L547.1,198.6L550.3,199.2L557.3,201.2L558.3,199.3L556.3,196.8L557.4,195.3L564.9,197.3L566.1,199.1L571.8,199.6L575.3,199.8L580.4,202.2L585.1,202.7L588.7,201.7L590.6,199.9L596.0,201.0M596.0,201.0L598.8,201.8L600.4,199.7L599.4,194.1L597.4,193.6L598.3,192.3L603.0,191.7L607.9,192.9L617.0,200.1L617.9,201.1L625.8,203.5L628.2,206.4L631.8,205.4L634.9,204.9L635.2,207.4L637.1,213.0L634.3,212.5L633.0,213.5L635.9,217.1L636.2,220.0L636.5,220.2M636.2,220.0L634.0,218.4L634.2,219.8L631.5,221.0L632.7,222.3L629.3,221.5L628.7,223.8L626.5,226.3M636.8,229.8L634.5,230.6L634.3,232.0M687.1,337.2L686.0,354.1M614.9,325.2L615.8,327.0L617.2,328.1L620.0,327.8L620.9,326.8L624.3,327.0L626.4,326.5L627.2,323.9L628.5,321.5L628.5,319.5L633.1,319.6M649.5,353.9L649.1,355.4" fill="none" stroke="#bdbdbd" stroke-width="0.6" stroke-linejoin="round"/>
<path d="M145.4,262.8L143.4,266.5L142.3,272.3L143.0,276.2L144.5,280.1L147.2,281.9L148.4,283.1L152.4,281.9L154.4,281.9L157.2,280.1L158.4,276.2L159.4,275.1L162.9,274.4L166.3,274.1L166.7,275.4L165.0,277.7L164.3,280.9L163.4,283.0L162.8,282.2L162.3,282.2L160.9,283.7L160.2,283.9L156.0,283.9L155.8,285.4L154.9,285.4L156.9,287.7L156.7,288.5L153.7,288.6L152.4,290.6L152.2,292.5L148.8,288.7L147.0,288.2L145.2,288.7L142.8,289.6L139.5,288.4L135.4,286.5L131.9,284.4L127.8,282.7L126.1,280.6L123.9,278.3L123.7,277.2L124.8,275.7L124.5,271.7L123.3,269.9L120.8,266.5L117.8,263.7L118.4,260.8L116.4,259.2L115.9,257.7L113.8,254.8L113.4,251.7L113.3,249.1L110.3,247.5L109.7,250.1L111.1,254.0L111.7,257.4L112.9,261.3L113.5,263.9L114.4,267.1L116.3,269.9L115.3,270.7L114.7,269.1L111.8,266.5L111.5,263.9L111.6,262.1L109.3,260.5L107.4,258.7L106.6,257.8L108.7,256.9L109.2,255.3L106.8,252.2L106.3,249.6L105.9,247.0L105.9,245.7L111.3,245.2L110.9,245.7L118.1,248.7L124.4,248.7L124.8,247.6L128.5,247.6L130.9,250.5L131.3,253.1L133.8,254.9L135.3,253.0L138.2,252.8L139.3,254.5L139.7,256.6L141.0,258.6L141.2,261.6L143.1,262.5L145.4,262.8ZM171.0,302.0L172.3,304.3L173.2,305.5L172.4,306.7L172.4,308.0L172.3,309.4L172.1,308.8L170.5,308.4L170.8,307.5L168.6,305.4L167.4,305.4L165.9,304.1L166.3,302.0L166.3,301.5L168.1,301.7L170.1,302.4L171.0,302.0ZM177.7,339.3L178.5,338.7L178.6,336.9L177.7,337.4L176.1,336.1L176.3,333.1L177.4,331.4L178.1,330.1L178.2,328.3L179.2,327.8L181.0,326.8L183.6,328.3L184.3,329.4L186.9,329.4L188.5,330.1L189.3,330.7L188.6,334.3L186.2,337.2L183.5,338.2L182.4,339.3L181.6,342.4L180.9,343.4L179.5,342.0L177.5,341.9L178.2,340.6L177.7,339.3ZM228.2,466.0L226.2,466.5L224.0,467.2L224.2,468.2L224.1,469.7L221.3,468.7L218.7,467.2L215.8,466.0L213.7,462.7L211.1,459.0L209.4,455.2L208.3,451.6L209.6,449.6L209.4,446.2L207.8,442.9L207.0,439.8L207.0,438.0L206.2,434.6L206.6,434.1L205.4,430.7L204.3,427.4L205.0,426.1L205.3,422.9L205.9,419.0L205.9,416.4L205.3,412.5L204.7,408.6L203.8,404.7L204.5,400.8L204.6,396.9L204.4,391.9L204.3,385.1L204.0,383.1L203.1,378.5L202.9,378.2L204.8,376.0L206.0,377.6L206.5,379.9L207.7,381.2L207.3,383.6L208.7,386.4L209.6,388.5L211.4,389.9L211.8,390.4L211.4,393.0L209.1,394.3L209.5,399.0L210.3,400.8L208.8,402.9L207.8,404.7L207.5,406.8L208.2,409.4L207.3,411.7L209.2,416.4L210.6,419.5L209.9,422.2L210.4,424.5L209.2,425.8L210.4,429.4L210.2,431.8L210.4,434.6L211.0,437.2L211.8,440.3L213.3,443.7L214.6,445.7L215.2,448.8L215.7,451.3L215.6,453.9L216.2,456.4L215.2,459.0L217.2,462.0L219.1,462.7L219.6,464.5L221.0,465.3L224.7,465.3L228.2,466.0ZM230.5,472.4L228.2,473.2L224.6,471.7L223.2,470.7L225.0,470.0L225.9,469.0L224.6,467.2L226.5,467.1L228.1,466.9Z" fill="#d1e5f0" stroke="#8a9aa6" stroke-width="0.5" stroke-linejoin="round"/>
<path d="M160.2,289.0L160.8,289.5L161.7,289.5L159.2,291.6L158.7,292.8L158.1,293.4L156.8,294.6L153.9,293.9L152.2,292.5L152.4,290.6L153.7,288.6L156.7,288.5L156.9,287.7L154.9,285.4L155.8,285.4L156.0,283.9L160.2,283.9L159.5,289.0L160.2,289.0ZM173.0,291.3L172.2,293.9L171.7,296.5L171.3,299.1L170.9,301.7L171.0,302.0L170.1,302.4L168.1,301.7L166.3,301.5L164.6,299.6L162.8,297.0L163.0,296.5L164.5,295.7L166.0,293.9L168.7,292.3L169.4,292.1L173.0,291.3ZM202.9,378.2L200.7,376.5L197.2,373.9L194.1,372.1L191.2,370.3L188.7,367.4L188.3,366.4L186.9,363.0L186.1,361.8L184.6,359.1L183.3,356.5L182.3,354.1L181.2,351.5L179.0,348.4L176.2,346.0L175.9,344.0L175.5,342.6L176.4,340.6L177.7,339.3L178.2,340.6L177.5,341.9L179.5,342.0L180.9,343.4L181.6,342.4L182.4,339.3L183.5,338.2L186.2,337.2L188.6,334.3L189.3,330.7L190.3,330.9L192.9,333.7L194.8,336.7L196.8,336.7L199.3,336.3L201.3,337.4L199.9,340.3L201.6,341.3L199.7,341.5L194.9,344.2L194.3,346.3L193.3,348.4L192.6,349.9L195.1,353.9L196.8,355.2L197.1,356.5L200.9,355.0L200.9,359.1L203.2,358.9L205.5,363.0L205.0,366.1L205.3,367.7L204.3,369.0L204.9,370.8L204.0,371.1L205.5,372.6L204.4,375.5L204.8,376.0L202.9,378.2ZM171.0,273.4L173.5,271.2L175.4,270.4L177.5,269.9L179.9,270.2L181.5,270.2L183.5,271.7L185.8,272.0L187.8,273.6L189.9,274.9L191.7,275.4L194.9,277.6L194.5,278.1L191.8,278.5L186.8,278.7L188.1,277.0L185.9,276.2L184.8,274.1L182.2,273.7L180.0,272.8L177.4,272.0L175.6,272.5L173.5,273.1ZM193.7,282.6L196.1,282.8L198.5,283.0L199.7,283.3L200.0,281.7L200.2,279.0L197.9,278.4L196.5,278.8L197.7,280.1L198.4,281.9L195.9,282.0L193.9,281.8Z" fill="#2166ac" stroke="#8a9aa6" stroke-width="0.5" stroke-linejoin="round"/>
<path d="M173.2,305.5L174.5,306.9L176.3,307.5L177.7,306.9L179.3,306.0L181.4,305.5L183.7,306.2L185.0,307.8L183.6,311.6L183.0,310.9L182.6,308.8L181.3,307.2L180.2,307.1L179.0,308.8L178.0,309.0L178.9,310.9L176.8,311.6L176.4,310.1L175.0,309.5L173.7,309.0L172.3,309.4L172.4,308.0L172.4,306.7L173.2,305.5ZM246.1,418.4L245.5,420.1L243.3,421.6L240.5,421.4L236.8,420.2L235.3,419.0L235.0,417.7L235.1,414.3L235.0,411.2L235.3,409.1L239.1,410.7L241.5,412.0L243.9,413.6L245.6,415.6L246.0,415.6L246.1,418.4Z" fill="#4393c3" stroke="#8a9aa6" stroke-width="0.5" stroke-linejoin="round"/>
<path d="M185.0,307.8L186.3,309.5L186.4,308.0L187.8,306.9L189.2,305.6L189.6,303.0L191.2,301.6L192.7,300.9L195.0,300.9L197.4,299.4L198.6,297.9L199.9,298.9L199.3,299.5L197.0,301.5L195.5,303.0L195.1,306.2L196.2,308.8L196.3,311.1L197.2,312.2L201.5,312.2L203.1,314.5L207.4,314.2L206.7,316.6L206.5,318.7L207.7,321.5L206.5,323.1L207.9,324.4L208.6,327.2L208.1,326.0L206.2,325.8L201.9,326.0L201.7,327.6L203.2,327.8L203.4,328.7L201.3,329.0L201.3,330.8L202.8,333.0L201.6,341.3L199.9,340.3L201.3,337.4L199.3,336.3L196.8,336.7L194.8,336.7L192.9,333.7L190.3,330.9L189.3,330.7L188.5,330.1L186.9,329.4L184.3,329.4L183.6,328.3L181.0,326.8L181.3,325.7L182.6,323.6L184.2,323.1L185.2,320.2L184.3,319.5L184.9,316.1L184.3,316.1L184.7,313.7L183.6,311.6ZM243.7,319.5L245.0,319.2L245.8,324.7L247.4,326.0L247.7,327.8L246.7,329.9L247.4,330.4L251.1,331.2L250.9,334.2L253.4,332.0L256.6,333.3L259.9,335.4L260.6,336.9L262.7,336.5L266.4,338.0L270.5,337.8L274.0,340.0L276.8,342.7L279.8,343.7L281.4,344.0L281.6,345.5L282.5,348.9L282.4,351.4L281.6,354.6L279.2,357.8L277.6,359.6L274.6,364.3L273.5,366.9L273.6,369.5L274.1,373.4L273.6,376.5L272.5,378.6L272.5,381.5L271.5,383.3L270.1,386.7L268.0,390.1L265.4,390.4L262.0,391.1L260.6,392.4L258.6,393.0L255.2,395.6L254.0,397.1L254.1,400.3L254.6,402.3L254.2,405.0L252.4,406.8L251.5,409.9L250.3,412.0L248.2,414.3L247.5,416.7L246.1,418.4L246.0,415.6L245.6,415.6L243.9,413.6L241.5,412.0L239.1,410.7L235.3,409.1L237.2,407.3L239.0,404.2L241.6,401.8L242.8,400.5L242.2,397.1L240.4,397.1L240.7,393.2L239.9,392.7L238.1,392.7L237.1,389.1L235.3,388.3L232.1,388.0L231.8,384.6L231.1,382.9L231.5,379.9L232.1,377.8L229.9,375.2L229.9,372.9L225.6,372.9L225.2,369.8L224.4,366.4L220.9,364.8L217.4,363.0L215.1,362.7L213.1,361.2L212.9,358.6L212.9,355.9L209.9,356.2L206.8,358.3L205.2,359.1L203.2,358.9L200.9,359.1L200.9,355.0L197.1,356.5L196.8,355.2L195.1,353.9L192.6,349.9L193.3,348.4L194.3,346.3L194.9,344.2L199.7,341.5L201.6,341.3L202.8,333.0L201.3,330.8L201.3,329.0L203.4,328.7L203.2,327.8L201.7,327.6L201.9,326.0L206.2,325.8L208.1,326.0L208.6,327.2L209.9,328.4L211.7,328.1L212.9,327.3L215.2,325.4L216.6,324.7L215.2,323.9L214.8,321.0L213.9,319.7L217.6,320.8L218.3,319.8L220.2,319.6L222.5,318.1L222.9,316.8L224.6,317.2L225.2,318.9L225.6,320.2L224.7,324.1L226.3,326.8L227.2,327.3L229.0,326.5L230.6,325.3L232.5,325.3L233.9,325.6L233.9,323.9L236.9,324.3L238.7,324.4L240.8,324.7L242.0,322.3L243.7,319.5Z" fill="#fddbc7" stroke="#8a9aa6" stroke-width="0.5" stroke-linejoin="round"/>
<path d="M235.3,419.0L235.6,420.6L238.5,422.4L238.8,424.8L240.1,425.0L240.5,426.6L239.2,429.4L237.1,431.0L232.5,432.0L229.6,431.5L230.7,434.4L230.8,436.2L230.0,437.2L225.2,436.7L225.5,438.5L228.3,440.3L229.5,441.6L227.8,442.1L227.1,443.1L227.5,446.5L227.2,447.5L224.0,449.8L224.3,451.3L227.0,452.6L229.1,454.7L226.8,458.5L225.1,461.5L225.9,464.2L228.2,466.0L224.7,465.3L221.0,465.3L219.6,464.5L219.1,462.7L217.2,462.0L215.2,459.0L216.2,456.4L215.6,453.9L215.7,451.3L215.2,448.8L214.6,445.7L213.3,443.7L211.8,440.3L211.0,437.2L210.4,434.6L210.2,431.8L210.4,429.4L209.2,425.8L210.4,424.5L209.9,422.2L210.6,419.5L209.2,416.4L207.3,411.7L208.2,409.4L207.5,406.8L207.8,404.7L208.8,402.9L210.3,400.8L209.5,399.0L209.1,394.3L211.4,393.0L211.8,390.4L211.4,389.9L213.1,387.2L215.6,388.0L217.6,389.8L217.9,390.0L218.4,387.7L221.0,387.7L221.4,388.4L225.5,392.4L229.1,394.0L232.6,395.8L233.6,396.3L232.6,399.7L232.0,401.6L234.9,401.8L237.1,401.8L238.0,401.6L240.3,400.0L240.4,397.1L242.2,397.1L242.8,400.5L241.6,401.8L239.0,404.2L237.2,407.3L235.3,409.1L235.0,411.2L235.1,414.3L235.0,417.7L235.3,419.0ZM228.1,466.9L229.2,467.7L231.7,470.2L234.2,471.5L236.8,471.8L234.7,472.8L230.5,472.4Z" fill="#92c5de" stroke="#8a9aa6" stroke-width="0.5" stroke-linejoin="round"/>
<path d="M401.8,213.7L399.7,213.0L397.6,212.8L396.2,213.3L395.0,212.8L395.1,213.8L396.1,215.3L397.9,217.1L399.3,218.4L401.2,219.6L401.5,217.9L402.6,217.3L403.2,216.0L402.6,215.1L401.8,213.7ZM402.6,217.3L401.5,217.9L401.2,219.6L401.3,220.0L403.3,221.4L404.6,219.6L404.6,219.1L405.1,218.8L402.6,217.3ZM405.1,227.0L403.6,225.1L403.4,222.6L403.3,221.4L404.6,219.6L405.8,221.4L405.8,222.8L406.9,224.0L406.2,225.9L405.1,227.0ZM404.6,219.1L405.5,217.9L407.3,218.9L408.0,219.2L407.7,220.4L405.8,221.4L404.6,219.6L404.6,219.1ZM407.7,220.4L409.4,220.2L410.9,222.7L409.0,223.3L406.9,224.0L405.8,222.8L405.8,221.4L407.7,220.4ZM346.6,233.4L345.4,234.0L343.2,234.0L343.6,231.5L342.9,230.3L342.3,229.3L342.5,227.9L343.7,225.8L344.2,223.2L344.0,221.4L345.3,220.7L348.7,221.1L349.5,222.0L348.0,223.6L347.7,227.0L346.6,227.1L347.6,228.8L346.9,230.3L347.6,230.8L346.5,232.4L346.6,233.4Z" fill="#ffffff" stroke="#bdbdbd" stroke-width="0.5" stroke-linejoin="round"/>
<path d="M383.1,178.1L382.2,176.2L382.0,177.7L381.2,178.3L377.5,180.4L375.8,180.8L372.9,178.5L372.2,177.4L371.9,175.0L371.5,173.6L371.6,171.5L371.7,170.8L373.5,170.1L375.1,168.9L376.3,168.7L378.0,167.5L379.9,167.3L381.4,165.4L382.3,164.5L383.8,163.1L384.3,161.5L384.9,160.2L387.1,159.0L387.9,157.5L389.5,156.4L391.0,155.3L394.0,153.8L396.4,152.9L398.8,152.4L401.1,151.4L404.7,150.6L407.8,150.7L409.3,151.4L411.8,151.6L413.8,152.2L412.3,153.4L410.5,153.0L413.1,153.5L413.7,153.5L412.6,153.8L411.0,155.2L411.3,154.2L408.9,153.0L405.7,153.7L405.7,155.3L404.6,156.2L402.3,155.7L400.2,155.9L398.6,154.6L396.9,155.1L396.5,155.2L396.3,156.6L393.0,156.4L391.8,157.3L390.0,158.6L390.6,159.3L389.3,161.3L387.8,161.8L387.8,163.6L386.6,165.2L387.4,166.1L385.5,166.6L384.2,167.5L384.2,168.9L384.7,170.5L384.6,171.9L386.0,172.8L385.0,173.6L385.5,175.5L384.1,176.2L384.4,177.7L383.1,178.1ZM377.7,134.2L378.4,133.5L382.6,133.3L385.4,132.9L388.5,133.6L393.9,135.1L390.4,135.7L390.1,137.6L388.0,139.3L385.1,138.5L383.4,137.4L382.5,136.2L379.3,135.1ZM388.2,132.6L390.9,132.1L396.7,132.4L401.1,132.7L400.1,134.0L394.4,134.2L389.9,133.5ZM394.2,136.2L397.3,136.6L397.0,138.0L393.9,137.6ZM408.2,181.1L408.3,179.9L406.3,179.1L405.9,177.9L408.3,177.3L410.5,176.9L414.4,177.3L414.2,177.7L413.5,178.9L414.0,180.3L414.0,181.9L412.4,181.9L411.3,181.3L409.9,180.8L408.2,181.1ZM397.3,205.6L398.9,206.3L400.7,206.0L402.8,205.3L403.9,204.4L406.4,204.7L407.3,204.6L408.9,205.6L407.3,207.2L405.9,209.7L404.1,210.4L402.7,210.3L401.3,210.9L398.9,210.9L397.4,210.2L396.5,209.5L395.4,208.5L396.1,207.2L397.3,206.4L397.3,205.6ZM397.3,205.6L398.9,206.3L400.7,206.0L402.8,205.3L403.9,204.4L406.4,204.7L407.3,204.6L407.9,202.9L405.7,202.1L403.3,202.2L402.3,202.6L401.4,201.7L400.4,201.8L398.9,202.8L397.2,203.5L396.7,204.1L397.3,205.6ZM396.7,204.1L397.2,203.5L398.9,202.8L400.4,201.8L392.0,198.4L392.9,198.2L394.4,199.1L395.0,198.9L396.2,199.4L396.5,199.8L398.5,200.6L400.4,201.8L392.0,198.4L390.9,198.1L389.4,198.8L387.5,199.7L386.7,199.8L387.6,201.1L390.4,203.7L392.2,204.1L392.7,203.1L395.0,203.7L396.7,204.1ZM390.4,203.7L392.2,204.1L392.7,203.1L395.0,203.7L396.7,204.1L397.3,205.6L397.3,206.4L396.1,207.2L395.4,208.5L393.2,209.2L390.6,209.4L387.9,208.9L387.4,208.1L385.0,208.7L383.9,208.5L382.1,208.1L382.0,206.9L383.8,206.8L384.9,207.2L387.3,206.5L389.0,206.9L388.9,206.0L388.6,205.1L389.6,204.6L390.4,203.7ZM417.6,224.2L417.3,224.0L414.1,223.7L412.7,224.4L413.4,225.1L414.1,225.8L413.1,226.2L412.2,226.3L411.0,224.9L410.5,226.2L411.3,227.7L411.6,228.8L413.9,230.8L414.2,232.1L412.9,231.5L411.9,231.6L412.4,233.2L412.4,235.3L411.1,235.4L409.9,234.5L409.3,234.5L408.3,232.4L408.4,230.8L407.7,230.6L406.9,229.0L405.5,227.2L405.1,227.0L406.2,225.9L406.9,224.0L409.0,223.3L410.9,222.7L413.1,222.3L415.9,222.9L418.0,221.8L417.6,224.2ZM413.5,238.4L414.7,237.7L417.0,238.3L419.6,238.4L419.2,239.2L416.3,239.3L413.7,238.6ZM351.2,200.4L352.2,200.7L354.4,199.8L355.3,200.1L355.8,199.1L357.7,199.3L358.7,199.1L360.0,199.1L361.0,198.7L363.0,198.7L364.4,198.3L365.2,197.7L365.4,197.1L363.9,196.8L364.4,196.0L365.1,195.7L365.7,195.3L366.0,194.3L365.3,193.3L363.5,193.2L362.7,193.3L363.2,192.8L362.7,191.7L362.4,190.3L361.4,189.3L360.3,189.0L359.9,188.1L358.7,186.1L358.4,185.9L356.4,185.7L357.6,184.9L357.0,184.5L358.7,182.8L359.2,182.0L358.8,181.5L356.2,181.5L354.6,182.0L355.4,181.1L356.8,179.7L357.0,179.2L353.2,179.3L352.6,180.2L351.7,181.1L351.8,182.5L351.5,183.2L350.8,183.9L352.1,184.7L351.4,187.4L352.4,186.4L353.2,185.9L353.6,187.0L352.7,188.5L353.2,189.0L355.6,188.4L356.7,188.2L355.6,189.3L356.9,190.3L356.6,191.1L356.5,192.1L355.0,192.2L353.6,192.2L353.3,193.6L354.5,194.6L352.1,195.8L352.5,196.4L354.3,196.7L356.3,196.9L357.2,196.7L356.6,197.6L354.4,197.6L353.6,198.1L352.7,199.2ZM349.0,188.0L351.3,188.5L352.1,189.8L352.6,190.5L351.0,191.2L350.2,191.3L349.6,190.5L349.0,191.1L347.8,190.9L347.3,190.3L348.5,189.6L349.2,188.8ZM351.0,191.2L350.9,191.4L351.2,193.1L351.4,194.1L350.6,196.0L349.3,196.1L346.9,196.9L343.7,197.8L342.5,196.2L344.1,194.9L343.7,195.0L345.5,193.6L343.2,192.9L343.3,191.5L343.7,190.7L346.5,190.7L347.3,190.0L347.1,188.6L349.2,188.8L349.0,188.0L349.2,188.8L348.5,189.6L347.3,190.3L347.8,190.9L349.0,191.1L349.6,190.5L350.2,191.3L351.0,191.2ZM369.2,197.1L369.5,196.8L370.6,195.5L371.8,193.2L372.9,192.8L374.0,192.1L376.0,191.9L376.6,192.3L376.4,193.9L376.3,194.6L375.9,195.7L374.4,195.9L374.8,197.1L374.5,198.7L373.9,198.6L374.1,197.7L372.4,196.9L371.1,197.1L369.2,197.1ZM367.6,197.8L368.3,197.4L369.2,197.1L371.1,197.1L372.4,196.9L374.1,197.7L373.9,198.6L374.5,198.7L375.3,199.7L374.8,200.2L374.2,201.7L372.1,200.2L370.9,200.6L368.5,198.7L367.6,197.8ZM390.6,209.4L393.2,209.2L395.4,208.5L396.5,209.5L394.7,210.2L394.0,212.0L392.6,211.8L390.5,212.1L390.8,211.8L390.5,211.2L390.0,210.2L390.6,209.4Z" fill="#d1e5f0" stroke="#8a9aa6" stroke-width="0.5" stroke-linejoin="round"/>
<path d="M404.4,162.4L401.2,163.0L399.9,165.0L398.5,167.0L396.2,168.4L393.8,170.3L394.0,174.3L396.7,175.5L397.4,176.9L394.4,179.1L393.9,181.3L393.6,184.1L393.0,185.2L392.3,185.3L389.9,186.8L389.8,187.1L389.0,187.1L387.8,187.2L387.4,186.6L386.8,185.5L386.3,184.9L387.0,184.1L384.9,181.5L383.4,178.6L383.1,178.1L384.4,177.7L384.1,176.2L385.5,175.5L385.0,173.6L386.0,172.8L384.6,171.9L384.7,170.5L384.2,168.9L384.2,167.5L385.5,166.6L387.4,166.1L386.6,165.2L387.8,163.6L387.8,161.8L389.3,161.3L390.6,159.3L390.0,158.6L391.8,157.3L393.0,156.4L396.3,156.6L396.5,155.2L396.9,155.1L397.7,155.5L399.6,156.4L402.2,157.5L402.9,158.8L403.2,161.1L404.4,162.4ZM413.4,174.7L411.9,174.9L408.4,175.6L404.8,176.3L403.2,175.0L401.4,174.1L401.5,172.4L400.9,168.7L402.9,167.0L407.0,164.3L406.6,163.1L404.4,162.4L403.2,161.1L402.9,158.8L402.2,157.5L399.6,156.4L397.7,155.5L396.9,155.1L398.6,154.6L400.2,155.9L402.3,155.7L404.6,156.2L405.7,155.3L405.7,153.7L408.9,153.0L411.3,154.2L411.0,155.2L410.5,156.4L413.3,158.2L412.4,159.9L414.8,162.7L414.8,164.7L416.4,166.1L415.7,167.1L418.9,169.1L416.8,171.7L413.4,174.7Z" fill="#fddbc7" stroke="#8a9aa6" stroke-width="0.5" stroke-linejoin="round"/>
<path d="M402.7,185.5L402.4,184.4L402.9,183.2L405.0,181.4L406.4,183.0L408.1,183.1L408.2,181.1L409.9,180.8L411.3,181.3L412.4,181.9L414.0,181.9L415.0,182.5L415.0,183.7L416.1,185.3L415.3,186.1L413.4,186.4L411.3,185.3L409.9,184.7L406.3,184.9L404.3,184.7L402.7,185.5ZM402.9,187.4L402.9,186.4L402.7,185.5L404.3,184.7L406.3,184.9L409.9,184.7L411.3,185.3L413.4,186.4L413.5,187.9L412.2,188.5L411.9,189.8L409.9,190.8L408.1,190.7L406.6,189.7L406.0,188.1L404.8,187.9L402.9,187.4Z" fill="#f4a582" stroke="#8a9aa6" stroke-width="0.5" stroke-linejoin="round"/>
<path d="M390.2,190.8L393.5,190.0L395.3,188.8L398.0,188.6L398.7,189.7L400.5,189.5L406.6,189.7L408.1,190.7L409.4,193.8L408.1,194.8L409.3,196.8L410.4,198.6L408.6,201.1L408.1,201.8L407.9,202.9L405.7,202.1L403.3,202.2L402.3,202.6L401.4,201.7L400.4,201.8L398.5,200.6L396.5,199.8L396.2,199.4L395.0,198.9L394.4,199.1L392.9,198.2L392.0,198.4L392.1,197.1L391.3,195.5L391.2,194.1L390.2,193.4L390.6,192.3L390.2,190.8ZM413.4,186.4L415.3,186.1L416.1,185.3L421.7,186.6L421.9,188.6L424.1,190.3L426.2,191.9L424.0,192.6L425.1,195.3L423.5,195.4L423.0,197.3L419.9,196.8L415.9,196.6L411.8,195.8L409.3,196.8L408.1,194.8L409.4,193.8L408.1,190.7L409.9,190.8L411.9,189.8L412.2,188.5L413.5,187.9L413.4,186.4ZM409.3,196.8L411.8,195.8L415.9,196.6L419.9,196.8L423.0,197.3L423.5,195.4L428.9,194.7L430.4,196.0L432.1,197.6L433.5,199.6L437.3,199.8L442.9,201.6L442.5,203.6L443.2,204.9L443.2,206.0L440.4,206.8L440.4,207.9L439.0,207.9L437.7,208.8L435.1,209.5L433.8,210.2L434.5,211.5L435.3,212.5L437.7,212.5L435.6,213.3L433.2,214.6L432.5,214.8L431.8,214.3L429.5,212.4L431.4,210.5L430.2,210.5L428.0,209.5L426.9,209.2L425.4,209.5L423.6,212.4L420.6,212.1L421.9,210.7L422.0,210.5L424.1,209.7L421.9,207.0L421.1,205.8L418.7,204.5L416.4,205.0L412.2,205.8L408.9,205.6L407.3,204.6L407.9,202.9L408.1,201.8L408.6,201.1L410.4,198.6L409.3,196.8ZM408.9,205.6L412.2,205.8L416.4,205.0L418.7,207.4L420.0,209.2L420.6,212.1L423.6,212.4L423.8,212.8L422.0,215.3L422.0,216.5L419.2,215.6L418.5,215.5L415.6,216.8L413.5,216.6L410.4,216.4L409.5,215.3L409.0,214.1L406.8,213.8L406.9,212.9L405.3,211.4L404.1,210.4L405.9,209.7L407.3,207.2L408.9,205.6ZM382.0,206.9L382.1,208.1L383.9,208.5L383.3,209.2L383.2,210.1L381.6,209.5L381.0,211.2L379.8,209.6L378.7,210.9L377.0,210.9L376.6,211.1L376.5,209.7L375.0,210.1L375.0,209.3L376.6,207.4L378.0,206.7L380.0,206.3L382.0,206.9ZM390.8,211.8L389.5,211.6L387.9,212.3L388.4,213.5L388.0,215.1L388.7,215.7L390.6,216.9L391.8,219.2L392.3,219.8L394.3,221.1L396.6,221.3L396.0,222.3L398.2,223.3L400.6,224.5L401.8,225.9L401.5,226.7L400.7,226.0L399.0,225.0L397.8,226.2L397.6,227.0L399.0,228.8L398.0,229.3L397.0,231.6L396.1,231.2L396.4,229.7L397.1,228.8L396.6,227.7L395.9,226.2L393.9,224.5L392.7,224.0L391.2,223.1L389.1,222.4L388.2,221.7L387.3,220.7L385.8,220.0L384.5,218.6L384.0,217.0L382.9,215.7L381.0,214.8L379.6,216.0L378.1,216.4L378.4,215.5L377.1,215.1L376.6,213.0L377.0,210.9L378.7,210.9L379.8,209.6L381.0,211.2L381.6,209.5L383.2,210.1L383.3,209.2L383.9,208.5L385.0,208.7L387.4,208.1L387.9,208.9L390.6,209.4L390.0,210.2L390.5,211.2L390.8,211.8ZM389.2,231.4L391.1,230.8L395.8,230.6L395.0,232.7L395.5,234.0L395.1,234.9L393.3,234.0L391.7,233.2L389.5,232.3ZM379.8,223.8L381.9,222.9L382.9,223.8L383.3,224.9L383.1,227.2L382.9,228.5L381.9,228.2L381.4,229.0L380.4,228.2L380.3,225.4ZM379.2,188.4L378.7,187.0L378.0,185.7L378.1,183.9L378.8,183.0L382.5,181.4L382.4,182.7L382.1,184.2L383.3,184.7L382.0,185.3L381.3,186.9L381.0,188.1L380.7,188.6L379.2,188.4ZM383.8,186.4L385.2,185.7L386.6,185.7L386.5,186.6L386.2,187.6L385.6,188.2L385.0,187.7L384.0,187.6ZM381.3,186.9L382.4,186.6L383.3,187.4L383.1,188.0L382.0,188.0ZM383.7,188.5L385.4,188.4L385.7,189.0L384.3,189.0ZM322.3,167.0L323.9,166.2L320.5,164.6L324.1,164.0L323.9,163.4L319.9,163.1L322.6,161.1L324.0,161.0L325.3,163.1L326.0,163.4L327.5,161.8L328.7,162.6L330.9,161.6L334.7,160.8L337.5,161.1L336.6,162.0L338.9,163.1L338.9,164.3L337.0,165.6L335.8,166.0L332.4,167.0L328.8,168.0L326.5,167.6L325.0,166.9Z" fill="#92c5de" stroke="#8a9aa6" stroke-width="0.5" stroke-linejoin="round"/>
<path d="M409.5,215.3L410.4,216.4L413.5,216.6L415.6,216.8L418.5,215.5L419.2,215.6L422.0,216.5L420.8,217.9L420.1,219.7L421.4,221.3L421.3,221.0L419.2,221.0L418.0,221.8L415.9,222.9L413.1,222.3L410.9,222.7L409.4,220.2L409.6,218.7L410.5,217.9L409.1,216.4L409.5,215.3ZM390.5,212.1L392.6,211.8L394.0,212.0L394.7,210.2L396.5,209.5L397.4,210.2L398.9,210.9L401.3,210.9L401.9,212.5L402.5,212.8L401.8,213.7L399.7,213.0L397.6,212.8L396.2,213.3L395.0,212.8L395.1,213.8L396.1,215.3L397.9,217.1L399.3,218.4L401.2,219.6L401.3,220.0L400.4,219.3L399.1,218.4L396.7,217.1L394.1,215.3L393.3,213.3L392.2,212.5L391.3,213.8L390.5,212.1ZM432.6,239.0L433.9,238.6L433.8,238.1L435.6,238.1L437.4,237.3L436.2,238.5L436.5,239.2L435.6,239.6L434.2,240.3L433.0,239.8Z" fill="#4393c3" stroke="#8a9aa6" stroke-width="0.5" stroke-linejoin="round"/>
<path d="M416.4,205.0L418.7,204.5L421.1,205.8L421.9,207.0L424.1,209.7L422.0,210.5L421.9,210.7L420.6,212.1L420.0,209.2L418.7,207.4L416.4,205.0ZM404.1,210.4L402.7,210.3L401.3,210.9L401.9,212.5L402.5,212.8L401.8,213.7L402.6,215.1L403.2,216.0L402.6,217.3L405.1,218.8L404.6,219.1L405.5,217.9L407.3,218.9L408.0,219.2L407.7,220.4L409.4,220.2L409.6,218.7L410.5,217.9L409.1,216.4L409.5,215.3L409.0,214.1L406.8,213.8L406.9,212.9L405.3,211.4L404.1,210.4Z" fill="#2166ac" stroke="#8a9aa6" stroke-width="0.5" stroke-linejoin="round"/>
<path d="M457.4,222.8L454.2,223.3L455.1,225.7L457.8,227.1L458.1,226.7L460.0,227.7L460.9,229.2L461.9,229.1L461.5,227.5L459.4,226.4L460.1,225.7L458.9,224.1L457.4,222.8ZM437.9,248.8L438.4,248.0L438.8,246.9L439.2,244.9L439.3,244.1L440.8,243.6L440.8,245.2L440.5,245.9L439.7,245.6L439.3,246.5L439.4,248.0L440.0,248.7L440.5,248.3L440.5,249.6L439.9,253.4L439.8,253.5Z" fill="#4393c3" stroke="#8a9aa6" stroke-width="0.5" stroke-linejoin="round"/>
</g>
<text x="17" y="40" class="ttl" textLength="682" lengthAdjust="spacingAndGlyphs">Biweekly change in confirmed COVID-19 cases, Feb 22, 2026</text>
<text x="17" y="66.4" class="sub" textLength="729" lengthAdjust="spacingAndGlyphs">The biweekly change on any given date measures the percentage change in the number of new confirmed cases</text>
<text x="17" y="84" class="sub" textLength="695" lengthAdjust="spacingAndGlyphs">over the last 14 days, relative to the number in the previous 14 days. Due to limited testing, the number of</text>
<text x="17" y="101.7" class="sub" textLength="393" lengthAdjust="spacingAndGlyphs">confirmed cases is lower than the true number of infections.</text>
<g id="logo">
<rect x="769" y="16" width="64.5" height="36" fill="#002147"/>
<rect x="769" y="49.3" width="64.5" height="2.7" fill="#ce261e"/>
<text x="801.2" y="30" text-anchor="middle" class="logo" textLength="55" lengthAdjust="spacingAndGlyphs">Our World</text>
<text x="801.2" y="42.6" text-anchor="middle" class="logo" textLength="39" lengthAdjust="spacingAndGlyphs">in Data</text>
</g>
<g id="legend">
<rect x="195.00" y="537" width="58.50" height="11.5" fill="#2166ac"/>
<rect x="253.50" y="537" width="58.50" height="11.5" fill="#4393c3"/>
<rect x="312.00" y="537" width="58.50" height="11.5" fill="#92c5de"/>
<rect x="370.50" y="537" width="58.50" height="11.5" fill="#d1e5f0"/>
<rect x="429.00" y="537" width="58.50" height="11.5" fill="#fddbc7"/>
<rect x="487.50" y="537" width="58.50" height="11.5" fill="#f4a582"/>
<rect x="546.00" y="537" width="58.50" height="11.5" fill="#d6604d"/>
<rect x="604.50" y="537" width="58.50" height="11.5" fill="#b2182b"/>
<path d="M663.00,537 h53.50 l5,5.75 l-5,5.75 h-53.50 z" fill="#67001f"/>
<line x1="195.00" y1="520" x2="195.00" y2="548.5" stroke="#000" stroke-opacity="0.28" stroke-width="0.8"/>
<text x="195.00" y="515.6" text-anchor="middle" class="lg">-100%</text>
<line x1="253.50" y1="534.2" x2="253.50" y2="548.5" stroke="#000" stroke-opacity="0.28" stroke-width="0.8"/>
<text x="253.50" y="530.2" text-anchor="middle" class="lg">-75%</text>
<line x1="312.00" y1="520" x2="312.00" y2="548.5" stroke="#000" stroke-opacity="0.28" stroke-width="0.8"/>
<text x="312.00" y="515.6" text-anchor="middle" class="lg">-50%</text>
<line x1="370.50" y1="534.2" x2="370.50" y2="548.5" stroke="#000" stroke-opacity="0.28" stroke-width="0.8"/>
<text x="370.50" y="530.2" text-anchor="middle" class="lg">-25%</text>
<line x1="429.00" y1="520" x2="429.00" y2="548.5" stroke="#000" stroke-opacity="0.28" stroke-width="0.8"/>
<text x="429.00" y="515.6" text-anchor="middle" class="lg">0%</text>
<line x1="487.50" y1="534.2" x2="487.50" y2="548.5" stroke="#000" stroke-opacity="0.28" stroke-width="0.8"/>
<text x="487.50" y="530.2" text-anchor="middle" class="lg">25%</text>
<line x1="546.00" y1="520" x2="546.00" y2="548.5" stroke="#000" stroke-opacity="0.28" stroke-width="0.8"/>
<text x="546.00" y="515.6" text-anchor="middle" class="lg">50%</text>
<line x1="604.50" y1="534.2" x2="604.50" y2="548.5" stroke="#000" stroke-opacity="0.28" stroke-width="0.8"/>
<text x="604.50" y="530.2" text-anchor="middle" class="lg">75%</text>
<line x1="663.00" y1="520" x2="663.00" y2="548.5" stroke="#000" stroke-opacity="0.28" stroke-width="0.8"/>
<text x="663.00" y="515.6" text-anchor="middle" class="lg">100%</text>
<rect x="127" y="537" width="49" height="11.5" fill="url(#hatch)" stroke="#b0b0b0" stroke-width="0.7"/>
<line x1="151.5" y1="534.2" x2="151.5" y2="537" stroke="#000" stroke-opacity="0.28" stroke-width="0.8"/>
<text x="151.5" y="530.2" text-anchor="middle" class="lg">No data</text>
</g>
<text x="17" y="580.5" class="ft" font-weight="bold" textLength="71.5" lengthAdjust="spacingAndGlyphs">Data source:</text>
<text x="92.3" y="580.5" class="ft" textLength="193" lengthAdjust="spacingAndGlyphs">World Health Organization (2026)</text>
<text x="596" y="580.5" class="ft" textLength="234" lengthAdjust="spacingAndGlyphs">OurWorldinData.org/coronavirus | CC BY</text>
</svg>
</body></html>
